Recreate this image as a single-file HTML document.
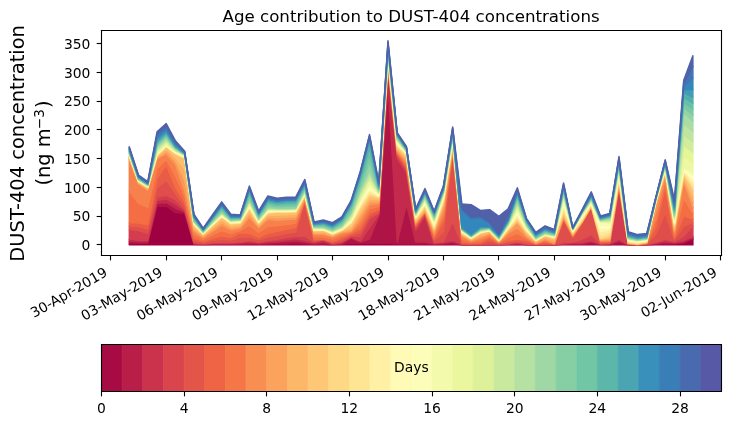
<!DOCTYPE html>
<html><head><meta charset="utf-8"><style>
html,body{margin:0;padding:0;background:#fff;overflow:hidden;width:730px;height:425px}
svg{display:block;will-change:transform}
</style></head><body>
<svg width="730" height="425" viewBox="0 0 525.6 306" version="1.1">
 
 <defs>
  <style type="text/css">*{stroke-linejoin: round; stroke-linecap: butt}</style>
 </defs>
 <g id="figure_1">
  <g id="patch_1">
   <path d="M 0 306 
L 525.6 306 
L 525.6 0 
L 0 0 
z
" style="fill: #ffffff"/>
  </g>
  <g id="axes_1">
   <g id="patch_2">
    <path d="M 72.79 183.67 
L 519.19 183.67 
L 519.19 21.88 
L 72.79 21.88 
z
" style="fill: #ffffff"/>
   </g>
   <g id="FillBetweenPolyCollection_1">
    
    <g clip-path="url(#p6c97a003e6)">
     <path d="M 93.08 -130.92 
L 93.08 -129.68 
L 99.73 -129.68 
L 106.38 -129.68 
L 113.04 -129.68 
L 119.69 -129.68 
L 126.34 -129.68 
L 132.99 -129.68 
L 139.65 -129.68 
L 146.30 -129.68 
L 152.95 -129.68 
L 159.61 -129.68 
L 166.26 -129.68 
L 172.91 -129.68 
L 179.56 -129.68 
L 186.22 -129.68 
L 192.87 -129.68 
L 199.52 -129.68 
L 206.17 -129.68 
L 212.83 -129.68 
L 219.48 -129.68 
L 226.13 -129.68 
L 232.79 -129.68 
L 239.44 -129.68 
L 246.09 -129.68 
L 252.74 -129.68 
L 259.40 -129.68 
L 266.05 -129.68 
L 272.70 -129.68 
L 279.36 -129.68 
L 286.01 -129.68 
L 292.66 -129.68 
L 299.31 -129.68 
L 305.97 -129.68 
L 312.62 -129.68 
L 319.27 -129.68 
L 325.92 -129.68 
L 332.58 -129.68 
L 339.23 -129.68 
L 345.88 -129.68 
L 352.54 -129.68 
L 359.19 -129.68 
L 365.84 -129.68 
L 372.49 -129.68 
L 379.15 -129.68 
L 385.80 -129.68 
L 392.45 -129.68 
L 399.10 -129.68 
L 405.76 -129.68 
L 412.41 -129.68 
L 419.06 -129.68 
L 425.72 -129.68 
L 432.37 -129.68 
L 439.02 -129.68 
L 445.67 -129.68 
L 452.33 -129.68 
L 458.98 -129.68 
L 465.63 -129.68 
L 472.29 -129.68 
L 478.94 -129.68 
L 485.59 -129.68 
L 492.24 -129.68 
L 498.90 -129.68 
L 498.90 -133.82 
L 498.90 -133.82 
L 492.24 -130.92 
L 485.59 -130.51 
L 478.94 -130.51 
L 472.29 -130.09 
L 465.63 -129.76 
L 458.98 -129.72 
L 452.33 -129.76 
L 445.67 -130.51 
L 439.02 -129.88 
L 432.37 -129.88 
L 425.72 -130.51 
L 419.06 -130.09 
L 412.41 -130.09 
L 405.76 -130.09 
L 399.10 -129.72 
L 392.45 -129.76 
L 385.80 -129.72 
L 379.15 -129.80 
L 372.49 -130.09 
L 365.84 -129.88 
L 359.19 -129.76 
L 352.54 -129.88 
L 345.88 -129.80 
L 339.23 -129.76 
L 332.58 -129.80 
L 325.92 -130.51 
L 319.27 -130.09 
L 312.62 -130.09 
L 305.97 -130.51 
L 299.31 -130.51 
L 292.66 -130.51 
L 286.01 -130.51 
L 279.36 -130.92 
L 272.70 -130.92 
L 266.05 -130.92 
L 259.40 -130.92 
L 252.74 -130.92 
L 246.09 -130.09 
L 239.44 -129.88 
L 232.79 -130.09 
L 226.13 -130.09 
L 219.48 -130.51 
L 212.83 -130.92 
L 206.17 -130.51 
L 199.52 -130.51 
L 192.87 -130.30 
L 186.22 -130.09 
L 179.56 -130.30 
L 172.91 -130.09 
L 166.26 -130.09 
L 159.61 -130.30 
L 152.95 -130.11 
L 146.30 -129.92 
L 139.65 -130.12 
L 132.99 -152.46 
L 126.34 -152.88 
L 119.69 -157.68 
L 113.04 -157.43 
L 106.38 -130.92 
L 99.73 -130.92 
L 93.08 -130.92 
z
" transform="translate(0 306)" style="stroke: #9e0142; fill: #9e0142; stroke: #9e0142"/>
    </g>
   </g>
   <g id="FillBetweenPolyCollection_2">
    
    <g clip-path="url(#p6c97a003e6)">
     <path d="M 93.08 -132.37 
L 93.08 -130.92 
L 99.73 -130.92 
L 106.38 -130.92 
L 113.04 -157.43 
L 119.69 -157.68 
L 126.34 -152.88 
L 132.99 -152.46 
L 139.65 -130.12 
L 146.30 -129.92 
L 152.95 -130.11 
L 159.61 -130.30 
L 166.26 -130.09 
L 172.91 -130.09 
L 179.56 -130.30 
L 186.22 -130.09 
L 192.87 -130.30 
L 199.52 -130.51 
L 206.17 -130.51 
L 212.83 -130.92 
L 219.48 -130.51 
L 226.13 -130.09 
L 232.79 -130.09 
L 239.44 -129.88 
L 246.09 -130.09 
L 252.74 -130.92 
L 259.40 -130.92 
L 266.05 -130.92 
L 272.70 -130.92 
L 279.36 -130.92 
L 286.01 -130.51 
L 292.66 -130.51 
L 299.31 -130.51 
L 305.97 -130.51 
L 312.62 -130.09 
L 319.27 -130.09 
L 325.92 -130.51 
L 332.58 -129.80 
L 339.23 -129.76 
L 345.88 -129.80 
L 352.54 -129.88 
L 359.19 -129.76 
L 365.84 -129.88 
L 372.49 -130.09 
L 379.15 -129.80 
L 385.80 -129.72 
L 392.45 -129.76 
L 399.10 -129.72 
L 405.76 -130.09 
L 412.41 -130.09 
L 419.06 -130.09 
L 425.72 -130.51 
L 432.37 -129.88 
L 439.02 -129.88 
L 445.67 -130.51 
L 452.33 -129.76 
L 458.98 -129.72 
L 465.63 -129.76 
L 472.29 -130.09 
L 478.94 -130.51 
L 485.59 -130.51 
L 492.24 -130.92 
L 498.90 -133.82 
L 498.90 -134.86 
L 498.90 -134.86 
L 492.24 -131.96 
L 485.59 -131.06 
L 478.94 -131.61 
L 472.29 -130.64 
L 465.63 -129.84 
L 458.98 -129.75 
L 452.33 -129.84 
L 445.67 -132.16 
L 439.02 -130.23 
L 432.37 -130.09 
L 425.72 -131.75 
L 419.06 -130.71 
L 412.41 -130.64 
L 405.76 -130.30 
L 399.10 -129.77 
L 392.45 -129.87 
L 385.80 -129.77 
L 379.15 -129.97 
L 372.49 -130.64 
L 365.84 -130.09 
L 359.19 -129.84 
L 352.54 -130.09 
L 345.88 -129.90 
L 339.23 -129.84 
L 332.58 -129.90 
L 325.92 -131.75 
L 319.27 -130.78 
L 312.62 -130.51 
L 305.97 -131.75 
L 299.31 -131.75 
L 292.66 -158.68 
L 286.01 -131.75 
L 279.36 -245.68 
L 272.70 -150.39 
L 266.05 -133.82 
L 259.40 -131.69 
L 252.74 -134.65 
L 246.09 -130.71 
L 239.44 -130.09 
L 232.79 -131.62 
L 226.13 -130.69 
L 219.48 -131.75 
L 212.83 -132.58 
L 206.17 -132.02 
L 199.52 -131.54 
L 192.87 -131.17 
L 186.22 -130.64 
L 179.56 -131.20 
L 172.91 -130.71 
L 166.26 -130.51 
L 159.61 -130.64 
L 152.95 -130.47 
L 146.30 -130.12 
L 139.65 -130.49 
L 132.99 -153.43 
L 126.34 -156.05 
L 119.69 -160.22 
L 113.04 -159.64 
L 106.38 -131.96 
L 99.73 -131.96 
L 93.08 -132.37 
z
" transform="translate(0 306)" style="stroke: #af1446; fill: #af1446; stroke: #af1446"/>
    </g>
   </g>
   <g id="FillBetweenPolyCollection_3">
    
    <g clip-path="url(#p6c97a003e6)">
     <path d="M 93.08 -133.82 
L 93.08 -132.37 
L 99.73 -131.96 
L 106.38 -131.96 
L 113.04 -159.64 
L 119.69 -160.22 
L 126.34 -156.05 
L 132.99 -153.43 
L 139.65 -130.49 
L 146.30 -130.12 
L 152.95 -130.47 
L 159.61 -130.64 
L 166.26 -130.51 
L 172.91 -130.71 
L 179.56 -131.20 
L 186.22 -130.64 
L 192.87 -131.17 
L 199.52 -131.54 
L 206.17 -132.02 
L 212.83 -132.58 
L 219.48 -131.75 
L 226.13 -130.69 
L 232.79 -131.62 
L 239.44 -130.09 
L 246.09 -130.71 
L 252.74 -134.65 
L 259.40 -131.69 
L 266.05 -133.82 
L 272.70 -150.39 
L 279.36 -245.68 
L 286.01 -131.75 
L 292.66 -158.68 
L 299.31 -131.75 
L 305.97 -131.75 
L 312.62 -130.51 
L 319.27 -130.78 
L 325.92 -131.75 
L 332.58 -129.90 
L 339.23 -129.84 
L 345.88 -129.90 
L 352.54 -130.09 
L 359.19 -129.84 
L 365.84 -130.09 
L 372.49 -130.64 
L 379.15 -129.97 
L 385.80 -129.77 
L 392.45 -129.87 
L 399.10 -129.77 
L 405.76 -130.30 
L 412.41 -130.64 
L 419.06 -130.71 
L 425.72 -131.75 
L 432.37 -130.09 
L 439.02 -130.23 
L 445.67 -132.16 
L 452.33 -129.84 
L 458.98 -129.75 
L 465.63 -129.84 
L 472.29 -130.64 
L 478.94 -131.61 
L 485.59 -131.06 
L 492.24 -131.96 
L 498.90 -134.86 
L 498.90 -135.89 
L 498.90 -135.89 
L 492.24 -132.99 
L 485.59 -131.61 
L 478.94 -132.72 
L 472.29 -131.20 
L 465.63 -129.93 
L 458.98 -129.77 
L 452.33 -129.93 
L 445.67 -133.82 
L 439.02 -130.57 
L 432.37 -130.30 
L 425.72 -132.99 
L 419.06 -131.33 
L 412.41 -131.20 
L 405.76 -130.51 
L 399.10 -129.83 
L 392.45 -129.98 
L 385.80 -129.83 
L 379.15 -130.13 
L 372.49 -131.20 
L 365.84 -130.30 
L 359.19 -129.93 
L 352.54 -130.30 
L 345.88 -129.99 
L 339.23 -129.93 
L 332.58 -129.99 
L 325.92 -132.99 
L 319.27 -131.47 
L 312.62 -130.92 
L 305.97 -150.39 
L 299.31 -140.03 
L 292.66 -181.46 
L 286.01 -191.82 
L 279.36 -253.97 
L 272.70 -151.43 
L 266.05 -142.11 
L 259.40 -132.45 
L 252.74 -135.27 
L 246.09 -131.33 
L 239.44 -130.30 
L 232.79 -133.16 
L 226.13 -131.29 
L 219.48 -132.99 
L 212.83 -134.23 
L 206.17 -133.54 
L 199.52 -132.58 
L 192.87 -132.04 
L 186.22 -131.20 
L 179.56 -132.09 
L 172.91 -131.33 
L 166.26 -130.92 
L 159.61 -130.99 
L 152.95 -130.83 
L 146.30 -130.32 
L 139.65 -130.86 
L 132.99 -154.40 
L 126.34 -159.23 
L 119.69 -162.77 
L 113.04 -161.85 
L 106.38 -132.99 
L 99.73 -132.99 
L 93.08 -133.82 
z
" transform="translate(0 306)" style="stroke: #c32a4b; fill: #c32a4b; stroke: #c32a4b"/>
    </g>
   </g>
   <g id="FillBetweenPolyCollection_4">
    
    <g clip-path="url(#p6c97a003e6)">
     <path d="M 93.08 -140.86 
L 93.08 -133.82 
L 99.73 -132.99 
L 106.38 -132.99 
L 113.04 -161.85 
L 119.69 -162.77 
L 126.34 -159.23 
L 132.99 -154.40 
L 139.65 -130.86 
L 146.30 -130.32 
L 152.95 -130.83 
L 159.61 -130.99 
L 166.26 -130.92 
L 172.91 -131.33 
L 179.56 -132.09 
L 186.22 -131.20 
L 192.87 -132.04 
L 199.52 -132.58 
L 206.17 -133.54 
L 212.83 -134.23 
L 219.48 -132.99 
L 226.13 -131.29 
L 232.79 -133.16 
L 239.44 -130.30 
L 246.09 -131.33 
L 252.74 -135.27 
L 259.40 -132.45 
L 266.05 -142.11 
L 272.70 -151.43 
L 279.36 -253.97 
L 286.01 -191.82 
L 292.66 -181.46 
L 299.31 -140.03 
L 305.97 -150.39 
L 312.62 -130.92 
L 319.27 -131.47 
L 325.92 -132.99 
L 332.58 -129.99 
L 339.23 -129.93 
L 345.88 -129.99 
L 352.54 -130.30 
L 359.19 -129.93 
L 365.84 -130.30 
L 372.49 -131.20 
L 379.15 -130.13 
L 385.80 -129.83 
L 392.45 -129.98 
L 399.10 -129.83 
L 405.76 -130.51 
L 412.41 -131.20 
L 419.06 -131.33 
L 425.72 -132.99 
L 432.37 -130.30 
L 439.02 -130.57 
L 445.67 -133.82 
L 452.33 -129.93 
L 458.98 -129.77 
L 465.63 -129.93 
L 472.29 -131.20 
L 478.94 -132.72 
L 485.59 -131.61 
L 492.24 -132.99 
L 498.90 -135.89 
L 498.90 -143.35 
L 498.90 -143.35 
L 492.24 -135.89 
L 485.59 -132.16 
L 478.94 -133.82 
L 472.29 -131.75 
L 465.63 -130.01 
L 458.98 -129.80 
L 452.33 -130.01 
L 445.67 -170.28 
L 439.02 -130.92 
L 432.37 -130.51 
L 425.72 -137.13 
L 419.06 -133.82 
L 412.41 -131.75 
L 405.76 -131.75 
L 399.10 -129.88 
L 392.45 -130.09 
L 385.80 -129.88 
L 379.15 -130.30 
L 372.49 -131.75 
L 365.84 -130.51 
L 359.19 -130.01 
L 352.54 -130.51 
L 345.88 -130.09 
L 339.23 -130.01 
L 332.58 -130.09 
L 325.92 -146.25 
L 319.27 -132.16 
L 312.62 -131.33 
L 305.97 -152.05 
L 299.31 -142.11 
L 292.66 -183.54 
L 286.01 -193.89 
L 279.36 -258.11 
L 272.70 -152.46 
L 266.05 -148.32 
L 259.40 -135.89 
L 252.74 -135.89 
L 246.09 -132.16 
L 239.44 -130.84 
L 232.79 -133.38 
L 226.13 -132.07 
L 219.48 -135.89 
L 212.83 -135.89 
L 206.17 -135.06 
L 199.52 -133.61 
L 192.87 -132.91 
L 186.22 -131.75 
L 179.56 -132.99 
L 172.91 -131.96 
L 166.26 -131.33 
L 159.61 -131.33 
L 152.95 -131.18 
L 146.30 -130.52 
L 139.65 -131.23 
L 132.99 -155.36 
L 126.34 -162.41 
L 119.69 -165.31 
L 113.04 -164.06 
L 106.38 -137.96 
L 99.73 -140.03 
L 93.08 -140.86 
z
" transform="translate(0 306)" style="stroke: #d43d4f; fill: #d43d4f; stroke: #d43d4f"/>
    </g>
   </g>
   <g id="FillBetweenPolyCollection_5">
    
    <g clip-path="url(#p6c97a003e6)">
     <path d="M 93.08 -143.35 
L 93.08 -140.86 
L 99.73 -140.03 
L 106.38 -137.96 
L 113.04 -164.06 
L 119.69 -165.31 
L 126.34 -162.41 
L 132.99 -155.36 
L 139.65 -131.23 
L 146.30 -130.52 
L 152.95 -131.18 
L 159.61 -131.33 
L 166.26 -131.33 
L 172.91 -131.96 
L 179.56 -132.99 
L 186.22 -131.75 
L 192.87 -132.91 
L 199.52 -133.61 
L 206.17 -135.06 
L 212.83 -135.89 
L 219.48 -135.89 
L 226.13 -132.07 
L 232.79 -133.38 
L 239.44 -130.84 
L 246.09 -132.16 
L 252.74 -135.89 
L 259.40 -135.89 
L 266.05 -148.32 
L 272.70 -152.46 
L 279.36 -258.11 
L 286.01 -193.89 
L 292.66 -183.54 
L 299.31 -142.11 
L 305.97 -152.05 
L 312.62 -131.33 
L 319.27 -132.16 
L 325.92 -146.25 
L 332.58 -130.09 
L 339.23 -130.01 
L 345.88 -130.09 
L 352.54 -130.51 
L 359.19 -130.01 
L 365.84 -130.51 
L 372.49 -131.75 
L 379.15 -130.30 
L 385.80 -129.88 
L 392.45 -130.09 
L 399.10 -129.88 
L 405.76 -131.75 
L 412.41 -131.75 
L 419.06 -133.82 
L 425.72 -137.13 
L 432.37 -130.51 
L 439.02 -130.92 
L 445.67 -170.28 
L 452.33 -130.01 
L 458.98 -129.80 
L 465.63 -130.01 
L 472.29 -131.75 
L 478.94 -133.82 
L 485.59 -132.16 
L 492.24 -135.89 
L 498.90 -143.35 
L 498.90 -145.83 
L 498.90 -145.83 
L 492.24 -143.14 
L 485.59 -133.41 
L 478.94 -152.46 
L 472.29 -137.30 
L 465.63 -130.31 
L 458.98 -129.83 
L 452.33 -130.21 
L 445.67 -171.11 
L 439.02 -131.44 
L 432.37 -131.09 
L 425.72 -157.02 
L 419.06 -145.30 
L 412.41 -135.06 
L 405.76 -147.49 
L 399.10 -130.11 
L 392.45 -130.97 
L 385.80 -130.11 
L 379.15 -131.59 
L 372.49 -132.78 
L 365.84 -131.75 
L 359.19 -130.46 
L 352.54 -132.49 
L 345.88 -130.71 
L 339.23 -130.46 
L 332.58 -130.92 
L 325.92 -195.96 
L 319.27 -139.21 
L 312.62 -132.99 
L 305.97 -152.55 
L 299.31 -142.93 
L 292.66 -184.78 
L 286.01 -194.72 
L 279.36 -258.77 
L 272.70 -153.91 
L 266.05 -150.39 
L 259.40 -138.58 
L 252.74 -136.80 
L 246.09 -133.41 
L 239.44 -131.50 
L 232.79 -133.60 
L 226.13 -132.84 
L 219.48 -160.75 
L 212.83 -139.00 
L 206.17 -137.96 
L 199.52 -136.51 
L 192.87 -135.44 
L 186.22 -133.41 
L 179.56 -135.48 
L 172.91 -135.17 
L 166.26 -133.20 
L 159.61 -133.78 
L 152.95 -132.80 
L 146.30 -131.42 
L 139.65 -132.88 
L 132.99 -158.06 
L 126.34 -166.76 
L 119.69 -176.29 
L 113.04 -170.69 
L 106.38 -141.07 
L 99.73 -142.73 
L 93.08 -143.35 
z
" transform="translate(0 306)" style="stroke: #df4e4b; fill: #df4e4b; stroke: #df4e4b"/>
    </g>
   </g>
   <g id="FillBetweenPolyCollection_6">
    
    <g clip-path="url(#p6c97a003e6)">
     <path d="M 93.08 -145.83 
L 93.08 -143.35 
L 99.73 -142.73 
L 106.38 -141.07 
L 113.04 -170.69 
L 119.69 -176.29 
L 126.34 -166.76 
L 132.99 -158.06 
L 139.65 -132.88 
L 146.30 -131.42 
L 152.95 -132.80 
L 159.61 -133.78 
L 166.26 -133.20 
L 172.91 -135.17 
L 179.56 -135.48 
L 186.22 -133.41 
L 192.87 -135.44 
L 199.52 -136.51 
L 206.17 -137.96 
L 212.83 -139.00 
L 219.48 -160.75 
L 226.13 -132.84 
L 232.79 -133.60 
L 239.44 -131.50 
L 246.09 -133.41 
L 252.74 -136.80 
L 259.40 -138.58 
L 266.05 -150.39 
L 272.70 -153.91 
L 279.36 -258.77 
L 286.01 -194.72 
L 292.66 -184.78 
L 299.31 -142.93 
L 305.97 -152.55 
L 312.62 -132.99 
L 319.27 -139.21 
L 325.92 -195.96 
L 332.58 -130.92 
L 339.23 -130.46 
L 345.88 -130.71 
L 352.54 -132.49 
L 359.19 -130.46 
L 365.84 -131.75 
L 372.49 -132.78 
L 379.15 -131.59 
L 385.80 -130.11 
L 392.45 -130.97 
L 399.10 -130.11 
L 405.76 -147.49 
L 412.41 -135.06 
L 419.06 -145.30 
L 425.72 -157.02 
L 432.37 -131.09 
L 439.02 -131.44 
L 445.67 -171.11 
L 452.33 -130.21 
L 458.98 -129.83 
L 465.63 -130.31 
L 472.29 -137.30 
L 478.94 -152.46 
L 485.59 -133.41 
L 492.24 -143.14 
L 498.90 -145.83 
L 498.90 -148.32 
L 498.90 -148.32 
L 492.24 -150.39 
L 485.59 -134.65 
L 478.94 -171.11 
L 472.29 -142.85 
L 465.63 -130.61 
L 458.98 -129.86 
L 452.33 -130.40 
L 445.67 -171.94 
L 439.02 -131.96 
L 432.37 -131.67 
L 425.72 -157.12 
L 419.06 -145.53 
L 412.41 -135.55 
L 405.76 -148.22 
L 399.10 -130.34 
L 392.45 -131.85 
L 385.80 -130.34 
L 379.15 -132.89 
L 372.49 -133.82 
L 365.84 -132.99 
L 359.19 -130.92 
L 352.54 -134.48 
L 345.88 -131.33 
L 339.23 -130.92 
L 332.58 -131.75 
L 325.92 -197.00 
L 319.27 -146.25 
L 312.62 -134.65 
L 305.97 -153.04 
L 299.31 -143.76 
L 292.66 -186.02 
L 286.01 -195.55 
L 279.36 -259.44 
L 272.70 -155.36 
L 266.05 -152.46 
L 259.40 -141.28 
L 252.74 -137.71 
L 246.09 -134.65 
L 239.44 -132.16 
L 232.79 -133.82 
L 226.13 -133.61 
L 219.48 -161.44 
L 212.83 -142.11 
L 206.17 -140.86 
L 199.52 -139.41 
L 192.87 -137.96 
L 186.22 -135.06 
L 179.56 -137.96 
L 172.91 -138.38 
L 166.26 -135.06 
L 159.61 -136.22 
L 152.95 -134.42 
L 146.30 -132.32 
L 139.65 -134.54 
L 132.99 -160.75 
L 126.34 -171.11 
L 119.69 -187.26 
L 113.04 -177.32 
L 106.38 -144.18 
L 99.73 -145.42 
L 93.08 -145.83 
z
" transform="translate(0 306)" style="stroke: #e95c47; fill: #e95c47; stroke: #e95c47"/>
    </g>
   </g>
   <g id="FillBetweenPolyCollection_7">
    
    <g clip-path="url(#p6c97a003e6)">
     <path d="M 93.08 -168.41 
L 93.08 -145.83 
L 99.73 -145.42 
L 106.38 -144.18 
L 113.04 -177.32 
L 119.69 -187.26 
L 126.34 -171.11 
L 132.99 -160.75 
L 139.65 -134.54 
L 146.30 -132.32 
L 152.95 -134.42 
L 159.61 -136.22 
L 166.26 -135.06 
L 172.91 -138.38 
L 179.56 -137.96 
L 186.22 -135.06 
L 192.87 -137.96 
L 199.52 -139.41 
L 206.17 -140.86 
L 212.83 -142.11 
L 219.48 -161.44 
L 226.13 -133.61 
L 232.79 -133.82 
L 239.44 -132.16 
L 246.09 -134.65 
L 252.74 -137.71 
L 259.40 -141.28 
L 266.05 -152.46 
L 272.70 -155.36 
L 279.36 -259.44 
L 286.01 -195.55 
L 292.66 -186.02 
L 299.31 -143.76 
L 305.97 -153.04 
L 312.62 -134.65 
L 319.27 -146.25 
L 325.92 -197.00 
L 332.58 -131.75 
L 339.23 -130.92 
L 345.88 -131.33 
L 352.54 -134.48 
L 359.19 -130.92 
L 365.84 -132.99 
L 372.49 -133.82 
L 379.15 -132.89 
L 385.80 -130.34 
L 392.45 -131.85 
L 399.10 -130.34 
L 405.76 -148.22 
L 412.41 -135.55 
L 419.06 -145.53 
L 425.72 -157.12 
L 432.37 -131.67 
L 439.02 -131.96 
L 445.67 -171.94 
L 452.33 -130.40 
L 458.98 -129.86 
L 465.63 -130.61 
L 472.29 -142.85 
L 478.94 -171.11 
L 485.59 -134.65 
L 492.24 -150.39 
L 498.90 -148.32 
L 498.90 -152.46 
L 498.90 -152.46 
L 492.24 -162.82 
L 485.59 -136.72 
L 478.94 -175.25 
L 472.29 -148.40 
L 465.63 -130.91 
L 458.98 -129.89 
L 452.33 -130.60 
L 445.67 -172.76 
L 439.02 -132.47 
L 432.37 -132.25 
L 425.72 -157.23 
L 419.06 -145.77 
L 412.41 -136.04 
L 405.76 -148.94 
L 399.10 -130.57 
L 392.45 -132.73 
L 385.80 -130.57 
L 379.15 -134.18 
L 372.49 -137.91 
L 365.84 -135.48 
L 359.19 -131.33 
L 352.54 -135.81 
L 345.88 -132.99 
L 339.23 -131.75 
L 332.58 -133.82 
L 325.92 -198.04 
L 319.27 -150.12 
L 312.62 -136.31 
L 305.97 -153.54 
L 299.31 -144.59 
L 292.66 -187.68 
L 286.01 -196.38 
L 279.36 -260.10 
L 272.70 -157.43 
L 266.05 -155.57 
L 259.40 -144.32 
L 252.74 -138.63 
L 246.09 -136.47 
L 239.44 -133.82 
L 232.79 -135.58 
L 226.13 -135.48 
L 219.48 -162.13 
L 212.83 -145.21 
L 206.17 -144.38 
L 199.52 -143.37 
L 192.87 -143.02 
L 186.22 -138.58 
L 179.56 -143.76 
L 172.91 -139.97 
L 166.26 -137.76 
L 159.61 -139.95 
L 152.95 -136.89 
L 146.30 -133.70 
L 139.65 -137.09 
L 132.99 -164.69 
L 126.34 -179.39 
L 119.69 -191.20 
L 113.04 -184.57 
L 106.38 -156.61 
L 99.73 -159.51 
L 93.08 -168.41 
z
" transform="translate(0 306)" style="stroke: #f46d43; fill: #f46d43; stroke: #f46d43"/>
    </g>
   </g>
   <g id="FillBetweenPolyCollection_8">
    
    <g clip-path="url(#p6c97a003e6)">
     <path d="M 93.08 -190.99 
L 93.08 -168.41 
L 99.73 -159.51 
L 106.38 -156.61 
L 113.04 -184.57 
L 119.69 -191.20 
L 126.34 -179.39 
L 132.99 -164.69 
L 139.65 -137.09 
L 146.30 -133.70 
L 152.95 -136.89 
L 159.61 -139.95 
L 166.26 -137.76 
L 172.91 -139.97 
L 179.56 -143.76 
L 186.22 -138.58 
L 192.87 -143.02 
L 199.52 -143.37 
L 206.17 -144.38 
L 212.83 -145.21 
L 219.48 -162.13 
L 226.13 -135.48 
L 232.79 -135.58 
L 239.44 -133.82 
L 246.09 -136.47 
L 252.74 -138.63 
L 259.40 -144.32 
L 266.05 -155.57 
L 272.70 -157.43 
L 279.36 -260.10 
L 286.01 -196.38 
L 292.66 -187.68 
L 299.31 -144.59 
L 305.97 -153.54 
L 312.62 -136.31 
L 319.27 -150.12 
L 325.92 -198.04 
L 332.58 -133.82 
L 339.23 -131.75 
L 345.88 -132.99 
L 352.54 -135.81 
L 359.19 -131.33 
L 365.84 -135.48 
L 372.49 -137.91 
L 379.15 -134.18 
L 385.80 -130.57 
L 392.45 -132.73 
L 399.10 -130.57 
L 405.76 -148.94 
L 412.41 -136.04 
L 419.06 -145.77 
L 425.72 -157.23 
L 432.37 -132.25 
L 439.02 -132.47 
L 445.67 -172.76 
L 452.33 -130.60 
L 458.98 -129.89 
L 465.63 -130.91 
L 472.29 -148.40 
L 478.94 -175.25 
L 485.59 -136.72 
L 492.24 -162.82 
L 498.90 -152.46 
L 498.90 -156.61 
L 498.90 -156.61 
L 492.24 -175.25 
L 485.59 -138.79 
L 478.94 -179.39 
L 472.29 -153.95 
L 465.63 -131.21 
L 458.98 -129.93 
L 452.33 -130.80 
L 445.67 -173.59 
L 439.02 -132.99 
L 432.37 -132.83 
L 425.72 -157.33 
L 419.06 -146.01 
L 412.41 -136.52 
L 405.76 -149.67 
L 399.10 -130.80 
L 392.45 -133.61 
L 385.80 -130.80 
L 379.15 -135.48 
L 372.49 -142.00 
L 365.84 -137.96 
L 359.19 -131.75 
L 352.54 -137.13 
L 345.88 -134.65 
L 339.23 -132.58 
L 332.58 -135.89 
L 325.92 -199.07 
L 319.27 -153.98 
L 312.62 -137.96 
L 305.97 -154.04 
L 299.31 -145.42 
L 292.66 -189.34 
L 286.01 -197.21 
L 279.36 -260.76 
L 272.70 -159.51 
L 266.05 -158.68 
L 259.40 -147.35 
L 252.74 -139.54 
L 246.09 -138.29 
L 239.44 -135.48 
L 232.79 -137.34 
L 226.13 -137.34 
L 219.48 -162.82 
L 212.83 -148.32 
L 206.17 -147.91 
L 199.52 -147.33 
L 192.87 -148.07 
L 186.22 -142.11 
L 179.56 -149.56 
L 172.91 -141.57 
L 166.26 -140.45 
L 159.61 -143.68 
L 152.95 -139.37 
L 146.30 -135.08 
L 139.65 -139.63 
L 132.99 -168.62 
L 126.34 -187.68 
L 119.69 -195.14 
L 113.04 -191.82 
L 106.38 -169.04 
L 99.73 -173.59 
L 93.08 -190.99 
z
" transform="translate(0 306)" style="stroke: #f7814c; fill: #f7814c; stroke: #f7814c"/>
    </g>
   </g>
   <g id="FillBetweenPolyCollection_9">
    
    <g clip-path="url(#p6c97a003e6)">
     <path d="M 93.08 -191.82 
L 93.08 -190.99 
L 99.73 -173.59 
L 106.38 -169.04 
L 113.04 -191.82 
L 119.69 -195.14 
L 126.34 -187.68 
L 132.99 -168.62 
L 139.65 -139.63 
L 146.30 -135.08 
L 152.95 -139.37 
L 159.61 -143.68 
L 166.26 -140.45 
L 172.91 -141.57 
L 179.56 -149.56 
L 186.22 -142.11 
L 192.87 -148.07 
L 199.52 -147.33 
L 206.17 -147.91 
L 212.83 -148.32 
L 219.48 -162.82 
L 226.13 -137.34 
L 232.79 -137.34 
L 239.44 -135.48 
L 246.09 -138.29 
L 252.74 -139.54 
L 259.40 -147.35 
L 266.05 -158.68 
L 272.70 -159.51 
L 279.36 -260.76 
L 286.01 -197.21 
L 292.66 -189.34 
L 299.31 -145.42 
L 305.97 -154.04 
L 312.62 -137.96 
L 319.27 -153.98 
L 325.92 -199.07 
L 332.58 -135.89 
L 339.23 -132.58 
L 345.88 -134.65 
L 352.54 -137.13 
L 359.19 -131.75 
L 365.84 -137.96 
L 372.49 -142.00 
L 379.15 -135.48 
L 385.80 -130.80 
L 392.45 -133.61 
L 399.10 -130.80 
L 405.76 -149.67 
L 412.41 -136.52 
L 419.06 -146.01 
L 425.72 -157.33 
L 432.37 -132.83 
L 439.02 -132.99 
L 445.67 -173.59 
L 452.33 -130.80 
L 458.98 -129.93 
L 465.63 -131.21 
L 472.29 -153.95 
L 478.94 -179.39 
L 485.59 -138.79 
L 492.24 -175.25 
L 498.90 -156.61 
L 498.90 -160.75 
L 498.90 -160.75 
L 492.24 -177.05 
L 485.59 -140.17 
L 478.94 -180.50 
L 472.29 -159.51 
L 465.63 -131.39 
L 458.98 -130.12 
L 452.33 -130.97 
L 445.67 -174.42 
L 439.02 -133.82 
L 432.37 -133.41 
L 425.72 -157.43 
L 419.06 -146.25 
L 412.41 -137.01 
L 405.76 -150.39 
L 399.10 -132.05 
L 392.45 -134.55 
L 385.80 -131.43 
L 379.15 -136.64 
L 372.49 -146.08 
L 365.84 -138.93 
L 359.19 -132.04 
L 352.54 -137.96 
L 345.88 -135.82 
L 339.23 -133.09 
L 332.58 -136.68 
L 325.92 -200.11 
L 319.27 -157.85 
L 312.62 -139.62 
L 305.97 -154.53 
L 299.31 -146.25 
L 292.66 -190.99 
L 286.01 -198.04 
L 279.36 -261.42 
L 272.70 -160.89 
L 266.05 -160.75 
L 259.40 -150.39 
L 252.74 -140.45 
L 246.09 -138.92 
L 239.44 -136.10 
L 232.79 -138.28 
L 226.13 -138.13 
L 219.48 -163.65 
L 212.83 -149.98 
L 206.17 -149.65 
L 199.52 -149.26 
L 192.87 -149.51 
L 186.22 -143.17 
L 179.56 -151.50 
L 172.91 -142.81 
L 166.26 -141.88 
L 159.61 -145.64 
L 152.95 -140.74 
L 146.30 -135.84 
L 139.65 -141.03 
L 132.99 -176.35 
L 126.34 -190.16 
L 119.69 -196.93 
L 113.04 -192.51 
L 106.38 -169.73 
L 99.73 -174.14 
L 93.08 -191.82 
z
" transform="translate(0 306)" style="stroke: #fa9857; fill: #fa9857; stroke: #fa9857"/>
    </g>
   </g>
   <g id="FillBetweenPolyCollection_10">
    
    <g clip-path="url(#p6c97a003e6)">
     <path d="M 93.08 -192.65 
L 93.08 -191.82 
L 99.73 -174.14 
L 106.38 -169.73 
L 113.04 -192.51 
L 119.69 -196.93 
L 126.34 -190.16 
L 132.99 -176.35 
L 139.65 -141.03 
L 146.30 -135.84 
L 152.95 -140.74 
L 159.61 -145.64 
L 166.26 -141.88 
L 172.91 -142.81 
L 179.56 -151.50 
L 186.22 -143.17 
L 192.87 -149.51 
L 199.52 -149.26 
L 206.17 -149.65 
L 212.83 -149.98 
L 219.48 -163.65 
L 226.13 -138.13 
L 232.79 -138.28 
L 239.44 -136.10 
L 246.09 -138.92 
L 252.74 -140.45 
L 259.40 -150.39 
L 266.05 -160.75 
L 272.70 -160.89 
L 279.36 -261.42 
L 286.01 -198.04 
L 292.66 -190.99 
L 299.31 -146.25 
L 305.97 -154.53 
L 312.62 -139.62 
L 319.27 -157.85 
L 325.92 -200.11 
L 332.58 -136.68 
L 339.23 -133.09 
L 345.88 -135.82 
L 352.54 -137.96 
L 359.19 -132.04 
L 365.84 -138.93 
L 372.49 -146.08 
L 379.15 -136.64 
L 385.80 -131.43 
L 392.45 -134.55 
L 399.10 -132.05 
L 405.76 -150.39 
L 412.41 -137.01 
L 419.06 -146.25 
L 425.72 -157.43 
L 432.37 -133.41 
L 439.02 -133.82 
L 445.67 -174.42 
L 452.33 -130.97 
L 458.98 -130.12 
L 465.63 -131.39 
L 472.29 -159.51 
L 478.94 -180.50 
L 485.59 -140.17 
L 492.24 -177.05 
L 498.90 -160.75 
L 498.90 -164.89 
L 498.90 -164.89 
L 492.24 -178.84 
L 485.59 -141.55 
L 478.94 -181.60 
L 472.29 -159.92 
L 465.63 -131.57 
L 458.98 -130.31 
L 452.33 -131.15 
L 445.67 -175.39 
L 439.02 -134.65 
L 432.37 -133.82 
L 425.72 -157.85 
L 419.06 -146.72 
L 412.41 -137.60 
L 405.76 -151.77 
L 399.10 -133.31 
L 392.45 -135.49 
L 385.80 -132.07 
L 379.15 -137.80 
L 372.49 -146.93 
L 365.84 -139.90 
L 359.19 -132.33 
L 352.54 -138.79 
L 345.88 -137.00 
L 339.23 -133.60 
L 332.58 -137.47 
L 325.92 -201.21 
L 319.27 -159.09 
L 312.62 -140.45 
L 305.97 -155.64 
L 299.31 -147.08 
L 292.66 -192.10 
L 286.01 -199.00 
L 279.36 -262.25 
L 272.70 -162.27 
L 266.05 -162.82 
L 259.40 -152.46 
L 252.74 -142.06 
L 246.09 -139.54 
L 239.44 -136.72 
L 232.79 -139.22 
L 226.13 -138.92 
L 219.48 -164.48 
L 212.83 -151.63 
L 206.17 -151.39 
L 199.52 -151.19 
L 192.87 -150.94 
L 186.22 -144.23 
L 179.56 -153.43 
L 172.91 -144.05 
L 166.26 -143.32 
L 159.61 -147.60 
L 152.95 -142.10 
L 146.30 -136.61 
L 139.65 -142.43 
L 132.99 -184.09 
L 126.34 -192.65 
L 119.69 -198.73 
L 113.04 -193.20 
L 106.38 -170.42 
L 99.73 -174.70 
L 93.08 -192.65 
z
" transform="translate(0 306)" style="stroke: #fdad60; fill: #fdad60; stroke: #fdad60"/>
    </g>
   </g>
   <g id="FillBetweenPolyCollection_11">
    
    <g clip-path="url(#p6c97a003e6)">
     <path d="M 93.08 -193.48 
L 93.08 -192.65 
L 99.73 -174.70 
L 106.38 -170.42 
L 113.04 -193.20 
L 119.69 -198.73 
L 126.34 -192.65 
L 132.99 -184.09 
L 139.65 -142.43 
L 146.30 -136.61 
L 152.95 -142.10 
L 159.61 -147.60 
L 166.26 -143.32 
L 172.91 -144.05 
L 179.56 -153.43 
L 186.22 -144.23 
L 192.87 -150.94 
L 199.52 -151.19 
L 206.17 -151.39 
L 212.83 -151.63 
L 219.48 -164.48 
L 226.13 -138.92 
L 232.79 -139.22 
L 239.44 -136.72 
L 246.09 -139.54 
L 252.74 -142.06 
L 259.40 -152.46 
L 266.05 -162.82 
L 272.70 -162.27 
L 279.36 -262.25 
L 286.01 -199.00 
L 292.66 -192.10 
L 299.31 -147.08 
L 305.97 -155.64 
L 312.62 -140.45 
L 319.27 -159.09 
L 325.92 -201.21 
L 332.58 -137.47 
L 339.23 -133.60 
L 345.88 -137.00 
L 352.54 -138.79 
L 359.19 -132.33 
L 365.84 -139.90 
L 372.49 -146.93 
L 379.15 -137.80 
L 385.80 -132.07 
L 392.45 -135.49 
L 399.10 -133.31 
L 405.76 -151.77 
L 412.41 -137.60 
L 419.06 -146.72 
L 425.72 -157.85 
L 432.37 -133.82 
L 439.02 -134.65 
L 445.67 -175.39 
L 452.33 -131.15 
L 458.98 -130.31 
L 465.63 -131.57 
L 472.29 -159.92 
L 478.94 -181.60 
L 485.59 -141.55 
L 492.24 -178.84 
L 498.90 -164.89 
L 498.90 -169.04 
L 498.90 -169.04 
L 492.24 -180.64 
L 485.59 -142.93 
L 478.94 -182.71 
L 472.29 -160.33 
L 465.63 -131.75 
L 458.98 -130.51 
L 452.33 -131.33 
L 445.67 -176.35 
L 439.02 -135.48 
L 432.37 -134.23 
L 425.72 -158.26 
L 419.06 -147.19 
L 412.41 -138.20 
L 405.76 -153.15 
L 399.10 -134.57 
L 392.45 -136.43 
L 385.80 -132.70 
L 379.15 -138.96 
L 372.49 -147.77 
L 365.84 -140.86 
L 359.19 -132.62 
L 352.54 -139.62 
L 345.88 -138.17 
L 339.23 -134.11 
L 332.58 -138.25 
L 325.92 -202.32 
L 319.27 -160.33 
L 312.62 -141.28 
L 305.97 -156.74 
L 299.31 -147.91 
L 292.66 -193.20 
L 286.01 -199.97 
L 279.36 -263.08 
L 272.70 -163.65 
L 266.05 -164.89 
L 259.40 -154.53 
L 252.74 -143.68 
L 246.09 -140.16 
L 239.44 -137.34 
L 232.79 -140.16 
L 226.13 -139.70 
L 219.48 -165.31 
L 212.83 -153.29 
L 206.17 -153.13 
L 199.52 -153.13 
L 192.87 -152.38 
L 186.22 -145.30 
L 179.56 -155.36 
L 172.91 -145.30 
L 166.26 -144.76 
L 159.61 -149.56 
L 152.95 -143.46 
L 146.30 -137.37 
L 139.65 -143.84 
L 132.99 -191.82 
L 126.34 -195.14 
L 119.69 -200.52 
L 113.04 -193.89 
L 106.38 -171.11 
L 99.73 -175.25 
L 93.08 -193.48 
z
" transform="translate(0 306)" style="stroke: #fdbf6f; fill: #fdbf6f; stroke: #fdbf6f"/>
    </g>
   </g>
   <g id="FillBetweenPolyCollection_12">
    
    <g clip-path="url(#p6c97a003e6)">
     <path d="M 93.08 -193.69 
L 93.08 -193.48 
L 99.73 -175.25 
L 106.38 -171.11 
L 113.04 -193.89 
L 119.69 -200.52 
L 126.34 -195.14 
L 132.99 -191.82 
L 139.65 -143.84 
L 146.30 -137.37 
L 152.95 -143.46 
L 159.61 -149.56 
L 166.26 -144.76 
L 172.91 -145.30 
L 179.56 -155.36 
L 186.22 -145.30 
L 192.87 -152.38 
L 199.52 -153.13 
L 206.17 -153.13 
L 212.83 -153.29 
L 219.48 -165.31 
L 226.13 -139.70 
L 232.79 -140.16 
L 239.44 -137.34 
L 246.09 -140.16 
L 252.74 -143.68 
L 259.40 -154.53 
L 266.05 -164.89 
L 272.70 -163.65 
L 279.36 -263.08 
L 286.01 -199.97 
L 292.66 -193.20 
L 299.31 -147.91 
L 305.97 -156.74 
L 312.62 -141.28 
L 319.27 -160.33 
L 325.92 -202.32 
L 332.58 -138.25 
L 339.23 -134.11 
L 345.88 -138.17 
L 352.54 -139.62 
L 359.19 -132.62 
L 365.84 -140.86 
L 372.49 -147.77 
L 379.15 -138.96 
L 385.80 -132.70 
L 392.45 -136.43 
L 399.10 -134.57 
L 405.76 -153.15 
L 412.41 -138.20 
L 419.06 -147.19 
L 425.72 -158.26 
L 432.37 -134.23 
L 439.02 -135.48 
L 445.67 -176.35 
L 452.33 -131.33 
L 458.98 -130.51 
L 465.63 -131.75 
L 472.29 -160.33 
L 478.94 -182.71 
L 485.59 -142.93 
L 492.24 -180.64 
L 498.90 -169.04 
L 498.90 -171.11 
L 498.90 -171.11 
L 492.24 -181.46 
L 485.59 -143.69 
L 478.94 -183.12 
L 472.29 -160.75 
L 465.63 -132.01 
L 458.98 -130.84 
L 452.33 -131.73 
L 445.67 -177.32 
L 439.02 -137.11 
L 432.37 -134.65 
L 425.72 -158.68 
L 419.06 -147.66 
L 412.41 -138.79 
L 405.76 -154.53 
L 399.10 -134.72 
L 392.45 -136.55 
L 385.80 -132.82 
L 379.15 -139.46 
L 372.49 -148.61 
L 365.84 -141.22 
L 359.19 -132.75 
L 352.54 -139.76 
L 345.88 -138.34 
L 339.23 -134.27 
L 332.58 -138.48 
L 325.92 -203.42 
L 319.27 -161.58 
L 312.62 -142.11 
L 305.97 -157.85 
L 299.31 -148.73 
L 292.66 -194.31 
L 286.01 -200.94 
L 279.36 -263.91 
L 272.70 -164.06 
L 266.05 -166.27 
L 259.40 -156.61 
L 252.74 -145.30 
L 246.09 -140.35 
L 239.44 -137.58 
L 232.79 -140.35 
L 226.13 -139.97 
L 219.48 -165.58 
L 212.83 -153.57 
L 206.17 -153.36 
L 199.52 -153.36 
L 192.87 -152.74 
L 186.22 -145.52 
L 179.56 -155.92 
L 172.91 -145.57 
L 166.26 -145.01 
L 159.61 -149.84 
L 152.95 -143.75 
L 146.30 -137.53 
L 139.65 -144.13 
L 132.99 -192.17 
L 126.34 -195.41 
L 119.69 -200.69 
L 113.04 -194.17 
L 106.38 -171.24 
L 99.73 -175.39 
L 93.08 -193.69 
z
" transform="translate(0 306)" style="stroke: #fece7c; fill: #fece7c; stroke: #fece7c"/>
    </g>
   </g>
   <g id="FillBetweenPolyCollection_13">
    
    <g clip-path="url(#p6c97a003e6)">
     <path d="M 93.08 -193.89 
L 93.08 -193.69 
L 99.73 -175.39 
L 106.38 -171.24 
L 113.04 -194.17 
L 119.69 -200.69 
L 126.34 -195.41 
L 132.99 -192.17 
L 139.65 -144.13 
L 146.30 -137.53 
L 152.95 -143.75 
L 159.61 -149.84 
L 166.26 -145.01 
L 172.91 -145.57 
L 179.56 -155.92 
L 186.22 -145.52 
L 192.87 -152.74 
L 199.52 -153.36 
L 206.17 -153.36 
L 212.83 -153.57 
L 219.48 -165.58 
L 226.13 -139.97 
L 232.79 -140.35 
L 239.44 -137.58 
L 246.09 -140.35 
L 252.74 -145.30 
L 259.40 -156.61 
L 266.05 -166.27 
L 272.70 -164.06 
L 279.36 -263.91 
L 286.01 -200.94 
L 292.66 -194.31 
L 299.31 -148.73 
L 305.97 -157.85 
L 312.62 -142.11 
L 319.27 -161.58 
L 325.92 -203.42 
L 332.58 -138.48 
L 339.23 -134.27 
L 345.88 -138.34 
L 352.54 -139.76 
L 359.19 -132.75 
L 365.84 -141.22 
L 372.49 -148.61 
L 379.15 -139.46 
L 385.80 -132.82 
L 392.45 -136.55 
L 399.10 -134.72 
L 405.76 -154.53 
L 412.41 -138.79 
L 419.06 -147.66 
L 425.72 -158.68 
L 432.37 -134.65 
L 439.02 -137.11 
L 445.67 -177.32 
L 452.33 -131.73 
L 458.98 -130.84 
L 465.63 -132.01 
L 472.29 -160.75 
L 478.94 -183.12 
L 485.59 -143.69 
L 492.24 -181.46 
L 498.90 -171.11 
L 498.90 -173.18 
L 498.90 -173.18 
L 492.24 -182.29 
L 485.59 -144.45 
L 478.94 -183.54 
L 472.29 -161.00 
L 465.63 -132.27 
L 458.98 -131.17 
L 452.33 -132.13 
L 445.67 -178.40 
L 439.02 -138.75 
L 432.37 -136.97 
L 425.72 -159.09 
L 419.06 -148.37 
L 412.41 -139.12 
L 405.76 -156.19 
L 399.10 -134.87 
L 392.45 -136.66 
L 385.80 -132.94 
L 379.15 -139.97 
L 372.49 -149.84 
L 365.84 -141.58 
L 359.19 -132.88 
L 352.54 -139.90 
L 345.88 -138.52 
L 339.23 -134.43 
L 332.58 -138.71 
L 325.92 -204.09 
L 319.27 -162.41 
L 312.62 -142.93 
L 305.97 -158.51 
L 299.31 -149.07 
L 292.66 -194.72 
L 286.01 -201.52 
L 279.36 -264.49 
L 272.70 -164.48 
L 266.05 -167.65 
L 259.40 -157.60 
L 252.74 -145.74 
L 246.09 -140.53 
L 239.44 -137.82 
L 232.79 -140.53 
L 226.13 -140.23 
L 219.48 -165.86 
L 212.83 -153.84 
L 206.17 -153.60 
L 199.52 -153.60 
L 192.87 -153.10 
L 186.22 -145.74 
L 179.56 -156.47 
L 172.91 -145.83 
L 166.26 -145.25 
L 159.61 -150.12 
L 152.95 -144.04 
L 146.30 -137.69 
L 139.65 -144.43 
L 132.99 -192.51 
L 126.34 -195.69 
L 119.69 -200.87 
L 113.04 -194.45 
L 106.38 -171.38 
L 99.73 -175.53 
L 93.08 -193.89 
z
" transform="translate(0 306)" style="stroke: #fee08b; fill: #fee08b; stroke: #fee08b"/>
    </g>
   </g>
   <g id="FillBetweenPolyCollection_14">
    
    <g clip-path="url(#p6c97a003e6)">
     <path d="M 93.08 -194.10 
L 93.08 -193.89 
L 99.73 -175.53 
L 106.38 -171.38 
L 113.04 -194.45 
L 119.69 -200.87 
L 126.34 -195.69 
L 132.99 -192.51 
L 139.65 -144.43 
L 146.30 -137.69 
L 152.95 -144.04 
L 159.61 -150.12 
L 166.26 -145.25 
L 172.91 -145.83 
L 179.56 -156.47 
L 186.22 -145.74 
L 192.87 -153.10 
L 199.52 -153.60 
L 206.17 -153.60 
L 212.83 -153.84 
L 219.48 -165.86 
L 226.13 -140.23 
L 232.79 -140.53 
L 239.44 -137.82 
L 246.09 -140.53 
L 252.74 -145.74 
L 259.40 -157.60 
L 266.05 -167.65 
L 272.70 -164.48 
L 279.36 -264.49 
L 286.01 -201.52 
L 292.66 -194.72 
L 299.31 -149.07 
L 305.97 -158.51 
L 312.62 -142.93 
L 319.27 -162.41 
L 325.92 -204.09 
L 332.58 -138.71 
L 339.23 -134.43 
L 345.88 -138.52 
L 352.54 -139.90 
L 359.19 -132.88 
L 365.84 -141.58 
L 372.49 -149.84 
L 379.15 -139.97 
L 385.80 -132.94 
L 392.45 -136.66 
L 399.10 -134.87 
L 405.76 -156.19 
L 412.41 -139.12 
L 419.06 -148.37 
L 425.72 -159.09 
L 432.37 -136.97 
L 439.02 -138.75 
L 445.67 -178.40 
L 452.33 -132.13 
L 458.98 -131.17 
L 465.63 -132.27 
L 472.29 -161.00 
L 478.94 -183.54 
L 485.59 -144.45 
L 492.24 -182.29 
L 498.90 -173.18 
L 498.90 -175.25 
L 498.90 -175.25 
L 492.24 -183.12 
L 485.59 -145.21 
L 478.94 -183.95 
L 472.29 -161.25 
L 465.63 -132.54 
L 458.98 -131.50 
L 452.33 -132.54 
L 445.67 -179.48 
L 439.02 -140.39 
L 432.37 -139.29 
L 425.72 -159.51 
L 419.06 -149.08 
L 412.41 -139.45 
L 405.76 -157.85 
L 399.10 -135.02 
L 392.45 -136.78 
L 385.80 -133.05 
L 379.15 -140.47 
L 372.49 -151.06 
L 365.84 -141.94 
L 359.19 -133.01 
L 352.54 -140.03 
L 345.88 -138.69 
L 339.23 -134.59 
L 332.58 -138.94 
L 325.92 -204.75 
L 319.27 -163.24 
L 312.62 -143.76 
L 305.97 -159.17 
L 299.31 -149.40 
L 292.66 -195.14 
L 286.01 -202.10 
L 279.36 -265.07 
L 272.70 -164.89 
L 266.05 -169.04 
L 259.40 -158.59 
L 252.74 -146.17 
L 246.09 -140.72 
L 239.44 -138.07 
L 232.79 -140.72 
L 226.13 -140.49 
L 219.48 -166.14 
L 212.83 -154.12 
L 206.17 -153.83 
L 199.52 -153.83 
L 192.87 -153.46 
L 186.22 -145.96 
L 179.56 -157.02 
L 172.91 -146.10 
L 166.26 -145.50 
L 159.61 -150.39 
L 152.95 -144.33 
L 146.30 -137.85 
L 139.65 -144.72 
L 132.99 -192.86 
L 126.34 -195.96 
L 119.69 -201.04 
L 113.04 -194.72 
L 106.38 -171.52 
L 99.73 -175.66 
L 93.08 -194.10 
z
" transform="translate(0 306)" style="stroke: #feea9b; fill: #feea9b; stroke: #feea9b"/>
    </g>
   </g>
   <g id="FillBetweenPolyCollection_15">
    
    <g clip-path="url(#p6c97a003e6)">
     <path d="M 93.08 -194.31 
L 93.08 -194.10 
L 99.73 -175.66 
L 106.38 -171.52 
L 113.04 -194.72 
L 119.69 -201.04 
L 126.34 -195.96 
L 132.99 -192.86 
L 139.65 -144.72 
L 146.30 -137.85 
L 152.95 -144.33 
L 159.61 -150.39 
L 166.26 -145.50 
L 172.91 -146.10 
L 179.56 -157.02 
L 186.22 -145.96 
L 192.87 -153.46 
L 199.52 -153.83 
L 206.17 -153.83 
L 212.83 -154.12 
L 219.48 -166.14 
L 226.13 -140.49 
L 232.79 -140.72 
L 239.44 -138.07 
L 246.09 -140.72 
L 252.74 -146.17 
L 259.40 -158.59 
L 266.05 -169.04 
L 272.70 -164.89 
L 279.36 -265.07 
L 286.01 -202.10 
L 292.66 -195.14 
L 299.31 -149.40 
L 305.97 -159.17 
L 312.62 -143.76 
L 319.27 -163.24 
L 325.92 -204.75 
L 332.58 -138.94 
L 339.23 -134.59 
L 345.88 -138.69 
L 352.54 -140.03 
L 359.19 -133.01 
L 365.84 -141.94 
L 372.49 -151.06 
L 379.15 -140.47 
L 385.80 -133.05 
L 392.45 -136.78 
L 399.10 -135.02 
L 405.76 -157.85 
L 412.41 -139.45 
L 419.06 -149.08 
L 425.72 -159.51 
L 432.37 -139.29 
L 439.02 -140.39 
L 445.67 -179.48 
L 452.33 -132.54 
L 458.98 -131.50 
L 465.63 -132.54 
L 472.29 -161.25 
L 478.94 -183.95 
L 485.59 -145.21 
L 492.24 -183.12 
L 498.90 -175.25 
L 498.90 -177.32 
L 498.90 -177.32 
L 492.24 -183.95 
L 485.59 -145.97 
L 478.94 -184.36 
L 472.29 -161.50 
L 465.63 -132.80 
L 458.98 -131.83 
L 452.33 -132.94 
L 445.67 -180.55 
L 439.02 -142.02 
L 432.37 -141.61 
L 425.72 -159.92 
L 419.06 -149.80 
L 412.41 -139.79 
L 405.76 -159.51 
L 399.10 -135.17 
L 392.45 -136.90 
L 385.80 -133.17 
L 379.15 -140.97 
L 372.49 -152.29 
L 365.84 -142.30 
L 359.19 -133.14 
L 352.54 -140.17 
L 345.88 -138.86 
L 339.23 -134.75 
L 332.58 -139.16 
L 325.92 -205.41 
L 319.27 -164.06 
L 312.62 -144.59 
L 305.97 -159.84 
L 299.31 -149.73 
L 292.66 -195.55 
L 286.01 -202.68 
L 279.36 -265.65 
L 272.70 -165.31 
L 266.05 -170.42 
L 259.40 -159.59 
L 252.74 -146.61 
L 246.09 -140.90 
L 239.44 -138.31 
L 232.79 -140.90 
L 226.13 -140.75 
L 219.48 -166.41 
L 212.83 -154.40 
L 206.17 -154.07 
L 199.52 -154.07 
L 192.87 -153.82 
L 186.22 -146.18 
L 179.56 -157.57 
L 172.91 -146.37 
L 166.26 -145.75 
L 159.61 -150.67 
L 152.95 -144.61 
L 146.30 -138.01 
L 139.65 -145.02 
L 132.99 -193.20 
L 126.34 -196.24 
L 119.69 -201.21 
L 113.04 -195.00 
L 106.38 -171.66 
L 99.73 -175.80 
L 93.08 -194.31 
z
" transform="translate(0 306)" style="stroke: #fff5ae; fill: #fff5ae; stroke: #fff5ae"/>
    </g>
   </g>
   <g id="FillBetweenPolyCollection_16">
    
    <g clip-path="url(#p6c97a003e6)">
     <path d="M 93.08 -194.51 
L 93.08 -194.31 
L 99.73 -175.80 
L 106.38 -171.66 
L 113.04 -195.00 
L 119.69 -201.21 
L 126.34 -196.24 
L 132.99 -193.20 
L 139.65 -145.02 
L 146.30 -138.01 
L 152.95 -144.61 
L 159.61 -150.67 
L 166.26 -145.75 
L 172.91 -146.37 
L 179.56 -157.57 
L 186.22 -146.18 
L 192.87 -153.82 
L 199.52 -154.07 
L 206.17 -154.07 
L 212.83 -154.40 
L 219.48 -166.41 
L 226.13 -140.75 
L 232.79 -140.90 
L 239.44 -138.31 
L 246.09 -140.90 
L 252.74 -146.61 
L 259.40 -159.59 
L 266.05 -170.42 
L 272.70 -165.31 
L 279.36 -265.65 
L 286.01 -202.68 
L 292.66 -195.55 
L 299.31 -149.73 
L 305.97 -159.84 
L 312.62 -144.59 
L 319.27 -164.06 
L 325.92 -205.41 
L 332.58 -139.16 
L 339.23 -134.75 
L 345.88 -138.86 
L 352.54 -140.17 
L 359.19 -133.14 
L 365.84 -142.30 
L 372.49 -152.29 
L 379.15 -140.97 
L 385.80 -133.17 
L 392.45 -136.90 
L 399.10 -135.17 
L 405.76 -159.51 
L 412.41 -139.79 
L 419.06 -149.80 
L 425.72 -159.92 
L 432.37 -141.61 
L 439.02 -142.02 
L 445.67 -180.55 
L 452.33 -132.94 
L 458.98 -131.83 
L 465.63 -132.80 
L 472.29 -161.50 
L 478.94 -184.36 
L 485.59 -145.97 
L 492.24 -183.95 
L 498.90 -177.32 
L 498.90 -179.39 
L 498.90 -179.39 
L 492.24 -184.78 
L 485.59 -146.73 
L 478.94 -184.78 
L 472.29 -161.74 
L 465.63 -133.06 
L 458.98 -132.16 
L 452.33 -133.34 
L 445.67 -181.63 
L 439.02 -143.66 
L 432.37 -143.93 
L 425.72 -160.33 
L 419.06 -150.51 
L 412.41 -140.12 
L 405.76 -161.16 
L 399.10 -135.33 
L 392.45 -137.02 
L 385.80 -133.29 
L 379.15 -141.48 
L 372.49 -153.52 
L 365.84 -142.66 
L 359.19 -133.27 
L 352.54 -140.31 
L 345.88 -139.03 
L 339.23 -134.90 
L 332.58 -139.39 
L 325.92 -206.07 
L 319.27 -164.89 
L 312.62 -145.42 
L 305.97 -160.50 
L 299.31 -150.06 
L 292.66 -195.96 
L 286.01 -203.26 
L 279.36 -266.23 
L 272.70 -165.72 
L 266.05 -171.80 
L 259.40 -160.58 
L 252.74 -147.05 
L 246.09 -141.09 
L 239.44 -138.55 
L 232.79 -141.09 
L 226.13 -141.01 
L 219.48 -166.69 
L 212.83 -154.67 
L 206.17 -154.30 
L 199.52 -154.30 
L 192.87 -154.18 
L 186.22 -146.40 
L 179.56 -158.13 
L 172.91 -146.64 
L 166.26 -146.00 
L 159.61 -150.94 
L 152.95 -144.90 
L 146.30 -138.17 
L 139.65 -145.31 
L 132.99 -193.55 
L 126.34 -196.52 
L 119.69 -201.39 
L 113.04 -195.27 
L 106.38 -171.80 
L 99.73 -175.94 
L 93.08 -194.51 
z
" transform="translate(0 306)" style="stroke: #ffffbe; fill: #ffffbe; stroke: #ffffbe"/>
    </g>
   </g>
   <g id="FillBetweenPolyCollection_17">
    
    <g clip-path="url(#p6c97a003e6)">
     <path d="M 93.08 -194.72 
L 93.08 -194.51 
L 99.73 -175.94 
L 106.38 -171.80 
L 113.04 -195.27 
L 119.69 -201.39 
L 126.34 -196.52 
L 132.99 -193.55 
L 139.65 -145.31 
L 146.30 -138.17 
L 152.95 -144.90 
L 159.61 -150.94 
L 166.26 -146.00 
L 172.91 -146.64 
L 179.56 -158.13 
L 186.22 -146.40 
L 192.87 -154.18 
L 199.52 -154.30 
L 206.17 -154.30 
L 212.83 -154.67 
L 219.48 -166.69 
L 226.13 -141.01 
L 232.79 -141.09 
L 239.44 -138.55 
L 246.09 -141.09 
L 252.74 -147.05 
L 259.40 -160.58 
L 266.05 -171.80 
L 272.70 -165.72 
L 279.36 -266.23 
L 286.01 -203.26 
L 292.66 -195.96 
L 299.31 -150.06 
L 305.97 -160.50 
L 312.62 -145.42 
L 319.27 -164.89 
L 325.92 -206.07 
L 332.58 -139.39 
L 339.23 -134.90 
L 345.88 -139.03 
L 352.54 -140.31 
L 359.19 -133.27 
L 365.84 -142.66 
L 372.49 -153.52 
L 379.15 -141.48 
L 385.80 -133.29 
L 392.45 -137.02 
L 399.10 -135.33 
L 405.76 -161.16 
L 412.41 -140.12 
L 419.06 -150.51 
L 425.72 -160.33 
L 432.37 -143.93 
L 439.02 -143.66 
L 445.67 -181.63 
L 452.33 -133.34 
L 458.98 -132.16 
L 465.63 -133.06 
L 472.29 -161.74 
L 478.94 -184.78 
L 485.59 -146.73 
L 492.24 -184.78 
L 498.90 -179.39 
L 498.90 -181.46 
L 498.90 -181.46 
L 492.24 -185.61 
L 485.59 -147.49 
L 478.94 -185.19 
L 472.29 -161.99 
L 465.63 -133.32 
L 458.98 -132.49 
L 452.33 -133.74 
L 445.67 -182.71 
L 439.02 -145.30 
L 432.37 -146.25 
L 425.72 -160.75 
L 419.06 -151.22 
L 412.41 -140.45 
L 405.76 -162.82 
L 399.10 -135.48 
L 392.45 -137.13 
L 385.80 -133.41 
L 379.15 -141.98 
L 372.49 -154.74 
L 365.84 -143.02 
L 359.19 -133.41 
L 352.54 -140.45 
L 345.88 -139.21 
L 339.23 -135.06 
L 332.58 -139.62 
L 325.92 -206.74 
L 319.27 -165.72 
L 312.62 -146.25 
L 305.97 -161.16 
L 299.31 -150.39 
L 292.66 -196.38 
L 286.01 -203.84 
L 279.36 -266.81 
L 272.70 -166.14 
L 266.05 -173.18 
L 259.40 -161.58 
L 252.74 -147.49 
L 246.09 -141.28 
L 239.44 -138.79 
L 232.79 -141.28 
L 226.13 -141.28 
L 219.48 -166.96 
L 212.83 -154.95 
L 206.17 -154.53 
L 199.52 -154.53 
L 192.87 -154.53 
L 186.22 -146.62 
L 179.56 -158.68 
L 172.91 -146.91 
L 166.26 -146.25 
L 159.61 -151.22 
L 152.95 -145.19 
L 146.30 -138.33 
L 139.65 -145.61 
L 132.99 -193.89 
L 126.34 -196.79 
L 119.69 -201.56 
L 113.04 -195.55 
L 106.38 -171.94 
L 99.73 -176.08 
L 93.08 -194.72 
z
" transform="translate(0 306)" style="stroke: #f7fcb2; fill: #f7fcb2; stroke: #f7fcb2"/>
    </g>
   </g>
   <g id="FillBetweenPolyCollection_18">
    
    <g clip-path="url(#p6c97a003e6)">
     <path d="M 93.08 -194.97 
L 93.08 -194.72 
L 99.73 -176.08 
L 106.38 -171.94 
L 113.04 -195.55 
L 119.69 -201.56 
L 126.34 -196.79 
L 132.99 -193.89 
L 139.65 -145.61 
L 146.30 -138.33 
L 152.95 -145.19 
L 159.61 -151.22 
L 166.26 -146.25 
L 172.91 -146.91 
L 179.56 -158.68 
L 186.22 -146.62 
L 192.87 -154.53 
L 199.52 -154.53 
L 206.17 -154.53 
L 212.83 -154.95 
L 219.48 -166.96 
L 226.13 -141.28 
L 232.79 -141.28 
L 239.44 -138.79 
L 246.09 -141.28 
L 252.74 -147.49 
L 259.40 -161.58 
L 266.05 -173.18 
L 272.70 -166.14 
L 279.36 -266.81 
L 286.01 -203.84 
L 292.66 -196.38 
L 299.31 -150.39 
L 305.97 -161.16 
L 312.62 -146.25 
L 319.27 -165.72 
L 325.92 -206.74 
L 332.58 -139.62 
L 339.23 -135.06 
L 345.88 -139.21 
L 352.54 -140.45 
L 359.19 -133.41 
L 365.84 -143.02 
L 372.49 -154.74 
L 379.15 -141.98 
L 385.80 -133.41 
L 392.45 -137.13 
L 399.10 -135.48 
L 405.76 -162.82 
L 412.41 -140.45 
L 419.06 -151.22 
L 425.72 -160.75 
L 432.37 -146.25 
L 439.02 -145.30 
L 445.67 -182.71 
L 452.33 -133.74 
L 458.98 -132.49 
L 465.63 -133.32 
L 472.29 -161.99 
L 478.94 -185.19 
L 485.59 -147.49 
L 492.24 -185.61 
L 498.90 -181.46 
L 498.90 -188.92 
L 498.90 -188.92 
L 492.24 -193.48 
L 485.59 -148.24 
L 478.94 -185.61 
L 472.29 -162.16 
L 465.63 -133.50 
L 458.98 -132.68 
L 452.33 -133.92 
L 445.67 -183.54 
L 439.02 -145.98 
L 432.37 -146.50 
L 425.72 -161.16 
L 419.06 -151.55 
L 412.41 -140.57 
L 405.76 -163.82 
L 399.10 -135.76 
L 392.45 -137.37 
L 385.80 -133.64 
L 379.15 -142.40 
L 372.49 -156.07 
L 365.84 -143.41 
L 359.19 -133.62 
L 352.54 -140.66 
L 345.88 -139.46 
L 339.23 -135.25 
L 332.58 -139.87 
L 325.92 -207.23 
L 319.27 -166.14 
L 312.62 -146.83 
L 305.97 -161.83 
L 299.31 -150.72 
L 292.66 -196.63 
L 286.01 -204.33 
L 279.36 -267.39 
L 272.70 -166.63 
L 266.05 -175.25 
L 259.40 -163.15 
L 252.74 -148.49 
L 246.09 -141.70 
L 239.44 -139.06 
L 232.79 -141.52 
L 226.13 -141.53 
L 219.48 -167.46 
L 212.83 -155.20 
L 206.17 -154.82 
L 199.52 -154.82 
L 192.87 -154.97 
L 186.22 -147.04 
L 179.56 -159.42 
L 172.91 -147.11 
L 166.26 -146.50 
L 159.61 -151.63 
L 152.95 -145.45 
L 146.30 -138.47 
L 139.65 -145.87 
L 132.99 -194.06 
L 126.34 -197.21 
L 119.69 -202.65 
L 113.04 -196.48 
L 106.38 -172.10 
L 99.73 -176.24 
L 93.08 -194.97 
z
" transform="translate(0 306)" style="stroke: #eef8a4; fill: #eef8a4; stroke: #eef8a4"/>
    </g>
   </g>
   <g id="FillBetweenPolyCollection_19">
    
    <g clip-path="url(#p6c97a003e6)">
     <path d="M 93.08 -195.22 
L 93.08 -194.97 
L 99.73 -176.24 
L 106.38 -172.10 
L 113.04 -196.48 
L 119.69 -202.65 
L 126.34 -197.21 
L 132.99 -194.06 
L 139.65 -145.87 
L 146.30 -138.47 
L 152.95 -145.45 
L 159.61 -151.63 
L 166.26 -146.50 
L 172.91 -147.11 
L 179.56 -159.42 
L 186.22 -147.04 
L 192.87 -154.97 
L 199.52 -154.82 
L 206.17 -154.82 
L 212.83 -155.20 
L 219.48 -167.46 
L 226.13 -141.53 
L 232.79 -141.52 
L 239.44 -139.06 
L 246.09 -141.70 
L 252.74 -148.49 
L 259.40 -163.15 
L 266.05 -175.25 
L 272.70 -166.63 
L 279.36 -267.39 
L 286.01 -204.33 
L 292.66 -196.63 
L 299.31 -150.72 
L 305.97 -161.83 
L 312.62 -146.83 
L 319.27 -166.14 
L 325.92 -207.23 
L 332.58 -139.87 
L 339.23 -135.25 
L 345.88 -139.46 
L 352.54 -140.66 
L 359.19 -133.62 
L 365.84 -143.41 
L 372.49 -156.07 
L 379.15 -142.40 
L 385.80 -133.64 
L 392.45 -137.37 
L 399.10 -135.76 
L 405.76 -163.82 
L 412.41 -140.57 
L 419.06 -151.55 
L 425.72 -161.16 
L 432.37 -146.50 
L 439.02 -145.98 
L 445.67 -183.54 
L 452.33 -133.92 
L 458.98 -132.68 
L 465.63 -133.50 
L 472.29 -162.16 
L 478.94 -185.61 
L 485.59 -148.24 
L 492.24 -193.48 
L 498.90 -188.92 
L 498.90 -196.38 
L 498.90 -196.38 
L 492.24 -201.35 
L 485.59 -148.98 
L 478.94 -186.02 
L 472.29 -162.32 
L 465.63 -133.69 
L 458.98 -132.86 
L 452.33 -134.10 
L 445.67 -184.36 
L 439.02 -146.67 
L 432.37 -146.75 
L 425.72 -161.58 
L 419.06 -151.88 
L 412.41 -140.70 
L 405.76 -164.81 
L 399.10 -136.04 
L 392.45 -137.60 
L 385.80 -133.87 
L 379.15 -142.81 
L 372.49 -157.39 
L 365.84 -143.81 
L 359.19 -133.84 
L 352.54 -140.86 
L 345.88 -139.72 
L 339.23 -135.43 
L 332.58 -140.12 
L 325.92 -207.73 
L 319.27 -166.55 
L 312.62 -147.41 
L 305.97 -162.49 
L 299.31 -151.05 
L 292.66 -196.88 
L 286.01 -204.83 
L 279.36 -267.97 
L 272.70 -167.13 
L 266.05 -177.32 
L 259.40 -164.73 
L 252.74 -149.48 
L 246.09 -142.12 
L 239.44 -139.34 
L 232.79 -141.76 
L 226.13 -141.77 
L 219.48 -167.96 
L 212.83 -155.45 
L 206.17 -155.11 
L 199.52 -155.11 
L 192.87 -155.41 
L 186.22 -147.47 
L 179.56 -160.17 
L 172.91 -147.31 
L 166.26 -146.75 
L 159.61 -152.05 
L 152.95 -145.71 
L 146.30 -138.62 
L 139.65 -146.14 
L 132.99 -194.22 
L 126.34 -197.62 
L 119.69 -203.73 
L 113.04 -197.41 
L 106.38 -172.27 
L 99.73 -176.41 
L 93.08 -195.22 
z
" transform="translate(0 306)" style="stroke: #e6f598; fill: #e6f598; stroke: #e6f598"/>
    </g>
   </g>
   <g id="FillBetweenPolyCollection_20">
    
    <g clip-path="url(#p6c97a003e6)">
     <path d="M 93.08 -195.47 
L 93.08 -195.22 
L 99.73 -176.41 
L 106.38 -172.27 
L 113.04 -197.41 
L 119.69 -203.73 
L 126.34 -197.62 
L 132.99 -194.22 
L 139.65 -146.14 
L 146.30 -138.62 
L 152.95 -145.71 
L 159.61 -152.05 
L 166.26 -146.75 
L 172.91 -147.31 
L 179.56 -160.17 
L 186.22 -147.47 
L 192.87 -155.41 
L 199.52 -155.11 
L 206.17 -155.11 
L 212.83 -155.45 
L 219.48 -167.96 
L 226.13 -141.77 
L 232.79 -141.76 
L 239.44 -139.34 
L 246.09 -142.12 
L 252.74 -149.48 
L 259.40 -164.73 
L 266.05 -177.32 
L 272.70 -167.13 
L 279.36 -267.97 
L 286.01 -204.83 
L 292.66 -196.88 
L 299.31 -151.05 
L 305.97 -162.49 
L 312.62 -147.41 
L 319.27 -166.55 
L 325.92 -207.73 
L 332.58 -140.12 
L 339.23 -135.43 
L 345.88 -139.72 
L 352.54 -140.86 
L 359.19 -133.84 
L 365.84 -143.81 
L 372.49 -157.39 
L 379.15 -142.81 
L 385.80 -133.87 
L 392.45 -137.60 
L 399.10 -136.04 
L 405.76 -164.81 
L 412.41 -140.70 
L 419.06 -151.88 
L 425.72 -161.58 
L 432.37 -146.75 
L 439.02 -146.67 
L 445.67 -184.36 
L 452.33 -134.10 
L 458.98 -132.86 
L 465.63 -133.69 
L 472.29 -162.32 
L 478.94 -186.02 
L 485.59 -148.98 
L 492.24 -201.35 
L 498.90 -196.38 
L 498.90 -203.84 
L 498.90 -203.84 
L 492.24 -209.22 
L 485.59 -149.73 
L 478.94 -186.44 
L 472.29 -162.49 
L 465.63 -133.87 
L 458.98 -133.04 
L 452.33 -134.28 
L 445.67 -185.19 
L 439.02 -147.36 
L 432.37 -146.99 
L 425.72 -161.99 
L 419.06 -152.21 
L 412.41 -140.82 
L 405.76 -165.80 
L 399.10 -136.32 
L 392.45 -137.83 
L 385.80 -134.10 
L 379.15 -143.22 
L 372.49 -158.72 
L 365.84 -144.21 
L 359.19 -134.05 
L 352.54 -141.07 
L 345.88 -139.98 
L 339.23 -135.61 
L 332.58 -140.37 
L 325.92 -208.23 
L 319.27 -166.96 
L 312.62 -147.99 
L 305.97 -163.15 
L 299.31 -151.39 
L 292.66 -197.12 
L 286.01 -205.33 
L 279.36 -268.55 
L 272.70 -167.63 
L 266.05 -179.39 
L 259.40 -166.30 
L 252.74 -150.47 
L 246.09 -142.54 
L 239.44 -139.61 
L 232.79 -142.00 
L 226.13 -142.02 
L 219.48 -168.46 
L 212.83 -155.69 
L 206.17 -155.40 
L 199.52 -155.40 
L 192.87 -155.85 
L 186.22 -147.89 
L 179.56 -160.92 
L 172.91 -147.51 
L 166.26 -146.99 
L 159.61 -152.46 
L 152.95 -145.96 
L 146.30 -138.76 
L 139.65 -146.40 
L 132.99 -194.39 
L 126.34 -198.04 
L 119.69 -204.82 
L 113.04 -198.35 
L 106.38 -172.43 
L 99.73 -176.58 
L 93.08 -195.47 
z
" transform="translate(0 306)" style="stroke: #d1ed9c; fill: #d1ed9c; stroke: #d1ed9c"/>
    </g>
   </g>
   <g id="FillBetweenPolyCollection_21">
    
    <g clip-path="url(#p6c97a003e6)">
     <path d="M 93.08 -195.72 
L 93.08 -195.47 
L 99.73 -176.58 
L 106.38 -172.43 
L 113.04 -198.35 
L 119.69 -204.82 
L 126.34 -198.04 
L 132.99 -194.39 
L 139.65 -146.40 
L 146.30 -138.76 
L 152.95 -145.96 
L 159.61 -152.46 
L 166.26 -146.99 
L 172.91 -147.51 
L 179.56 -160.92 
L 186.22 -147.89 
L 192.87 -155.85 
L 199.52 -155.40 
L 206.17 -155.40 
L 212.83 -155.69 
L 219.48 -168.46 
L 226.13 -142.02 
L 232.79 -142.00 
L 239.44 -139.61 
L 246.09 -142.54 
L 252.74 -150.47 
L 259.40 -166.30 
L 266.05 -179.39 
L 272.70 -167.63 
L 279.36 -268.55 
L 286.01 -205.33 
L 292.66 -197.12 
L 299.31 -151.39 
L 305.97 -163.15 
L 312.62 -147.99 
L 319.27 -166.96 
L 325.92 -208.23 
L 332.58 -140.37 
L 339.23 -135.61 
L 345.88 -139.98 
L 352.54 -141.07 
L 359.19 -134.05 
L 365.84 -144.21 
L 372.49 -158.72 
L 379.15 -143.22 
L 385.80 -134.10 
L 392.45 -137.83 
L 399.10 -136.32 
L 405.76 -165.80 
L 412.41 -140.82 
L 419.06 -152.21 
L 425.72 -161.99 
L 432.37 -146.99 
L 439.02 -147.36 
L 445.67 -185.19 
L 452.33 -134.28 
L 458.98 -133.04 
L 465.63 -133.87 
L 472.29 -162.49 
L 478.94 -186.44 
L 485.59 -149.73 
L 492.24 -209.22 
L 498.90 -203.84 
L 498.90 -211.29 
L 498.90 -211.29 
L 492.24 -217.09 
L 485.59 -150.47 
L 478.94 -186.85 
L 472.29 -162.66 
L 465.63 -134.05 
L 458.98 -133.22 
L 452.33 -134.47 
L 445.67 -186.02 
L 439.02 -148.05 
L 432.37 -147.24 
L 425.72 -162.41 
L 419.06 -152.55 
L 412.41 -140.95 
L 405.76 -166.80 
L 399.10 -136.60 
L 392.45 -138.06 
L 385.80 -134.33 
L 379.15 -143.64 
L 372.49 -160.04 
L 365.84 -144.61 
L 359.19 -134.27 
L 352.54 -141.28 
L 345.88 -140.23 
L 339.23 -135.79 
L 332.58 -140.61 
L 325.92 -208.73 
L 319.27 -167.38 
L 312.62 -148.57 
L 305.97 -163.82 
L 299.31 -151.72 
L 292.66 -197.37 
L 286.01 -205.83 
L 279.36 -269.13 
L 272.70 -168.12 
L 266.05 -181.46 
L 259.40 -167.88 
L 252.74 -151.47 
L 246.09 -142.97 
L 239.44 -139.89 
L 232.79 -142.24 
L 226.13 -142.27 
L 219.48 -168.95 
L 212.83 -155.94 
L 206.17 -155.69 
L 199.52 -155.69 
L 192.87 -156.29 
L 186.22 -148.31 
L 179.56 -161.66 
L 172.91 -147.71 
L 166.26 -147.24 
L 159.61 -152.88 
L 152.95 -146.22 
L 146.30 -138.90 
L 139.65 -146.67 
L 132.99 -194.56 
L 126.34 -198.45 
L 119.69 -205.91 
L 113.04 -199.28 
L 106.38 -172.60 
L 99.73 -176.74 
L 93.08 -195.72 
z
" transform="translate(0 306)" style="stroke: #bfe5a0; fill: #bfe5a0; stroke: #bfe5a0"/>
    </g>
   </g>
   <g id="FillBetweenPolyCollection_22">
    
    <g clip-path="url(#p6c97a003e6)">
     <path d="M 93.08 -195.96 
L 93.08 -195.72 
L 99.73 -176.74 
L 106.38 -172.60 
L 113.04 -199.28 
L 119.69 -205.91 
L 126.34 -198.45 
L 132.99 -194.56 
L 139.65 -146.67 
L 146.30 -138.90 
L 152.95 -146.22 
L 159.61 -152.88 
L 166.26 -147.24 
L 172.91 -147.71 
L 179.56 -161.66 
L 186.22 -148.31 
L 192.87 -156.29 
L 199.52 -155.69 
L 206.17 -155.69 
L 212.83 -155.94 
L 219.48 -168.95 
L 226.13 -142.27 
L 232.79 -142.24 
L 239.44 -139.89 
L 246.09 -142.97 
L 252.74 -151.47 
L 259.40 -167.88 
L 266.05 -181.46 
L 272.70 -168.12 
L 279.36 -269.13 
L 286.01 -205.83 
L 292.66 -197.37 
L 299.31 -151.72 
L 305.97 -163.82 
L 312.62 -148.57 
L 319.27 -167.38 
L 325.92 -208.73 
L 332.58 -140.61 
L 339.23 -135.79 
L 345.88 -140.23 
L 352.54 -141.28 
L 359.19 -134.27 
L 365.84 -144.61 
L 372.49 -160.04 
L 379.15 -143.64 
L 385.80 -134.33 
L 392.45 -138.06 
L 399.10 -136.60 
L 405.76 -166.80 
L 412.41 -140.95 
L 419.06 -152.55 
L 425.72 -162.41 
L 432.37 -147.24 
L 439.02 -148.05 
L 445.67 -186.02 
L 452.33 -134.47 
L 458.98 -133.22 
L 465.63 -134.05 
L 472.29 -162.66 
L 478.94 -186.85 
L 485.59 -150.47 
L 492.24 -217.09 
L 498.90 -211.29 
L 498.90 -218.75 
L 498.90 -218.75 
L 492.24 -224.97 
L 485.59 -151.22 
L 478.94 -187.26 
L 472.29 -162.82 
L 465.63 -134.23 
L 458.98 -133.41 
L 452.33 -134.65 
L 445.67 -186.85 
L 439.02 -148.73 
L 432.37 -147.49 
L 425.72 -162.82 
L 419.06 -152.88 
L 412.41 -141.07 
L 405.76 -167.79 
L 399.10 -136.89 
L 392.45 -138.29 
L 385.80 -134.57 
L 379.15 -144.05 
L 372.49 -161.37 
L 365.84 -145.01 
L 359.19 -134.48 
L 352.54 -141.48 
L 345.88 -140.49 
L 339.23 -135.97 
L 332.58 -140.86 
L 325.92 -209.22 
L 319.27 -167.79 
L 312.62 -149.15 
L 305.97 -164.48 
L 299.31 -152.05 
L 292.66 -197.62 
L 286.01 -206.32 
L 279.36 -269.71 
L 272.70 -168.62 
L 266.05 -183.54 
L 259.40 -169.45 
L 252.74 -152.46 
L 246.09 -143.39 
L 239.44 -140.16 
L 232.79 -142.48 
L 226.13 -142.52 
L 219.48 -169.45 
L 212.83 -156.19 
L 206.17 -155.98 
L 199.52 -155.98 
L 192.87 -156.73 
L 186.22 -148.73 
L 179.56 -162.41 
L 172.91 -147.91 
L 166.26 -147.49 
L 159.61 -153.29 
L 152.95 -146.48 
L 146.30 -139.05 
L 139.65 -146.93 
L 132.99 -194.72 
L 126.34 -198.86 
L 119.69 -206.86 
L 113.04 -200.27 
L 106.38 -172.76 
L 99.73 -176.91 
L 93.08 -195.96 
z
" transform="translate(0 306)" style="stroke: #aadca4; fill: #aadca4; stroke: #aadca4"/>
    </g>
   </g>
   <g id="FillBetweenPolyCollection_23">
    
    <g clip-path="url(#p6c97a003e6)">
     <path d="M 93.08 -196.48 
L 93.08 -195.96 
L 99.73 -176.91 
L 106.38 -172.76 
L 113.04 -200.27 
L 119.69 -206.86 
L 126.34 -198.86 
L 132.99 -194.72 
L 139.65 -146.93 
L 146.30 -139.05 
L 152.95 -146.48 
L 159.61 -153.29 
L 166.26 -147.49 
L 172.91 -147.91 
L 179.56 -162.41 
L 186.22 -148.73 
L 192.87 -156.73 
L 199.52 -155.98 
L 206.17 -155.98 
L 212.83 -156.19 
L 219.48 -169.45 
L 226.13 -142.52 
L 232.79 -142.48 
L 239.44 -140.16 
L 246.09 -143.39 
L 252.74 -152.46 
L 259.40 -169.45 
L 266.05 -183.54 
L 272.70 -168.62 
L 279.36 -269.71 
L 286.01 -206.32 
L 292.66 -197.62 
L 299.31 -152.05 
L 305.97 -164.48 
L 312.62 -149.15 
L 319.27 -167.79 
L 325.92 -209.22 
L 332.58 -140.86 
L 339.23 -135.97 
L 345.88 -140.49 
L 352.54 -141.48 
L 359.19 -134.48 
L 365.84 -145.01 
L 372.49 -161.37 
L 379.15 -144.05 
L 385.80 -134.57 
L 392.45 -138.29 
L 399.10 -136.89 
L 405.76 -167.79 
L 412.41 -141.07 
L 419.06 -152.88 
L 425.72 -162.82 
L 432.37 -147.49 
L 439.02 -148.73 
L 445.67 -186.85 
L 452.33 -134.65 
L 458.98 -133.41 
L 465.63 -134.23 
L 472.29 -162.82 
L 478.94 -187.26 
L 485.59 -151.22 
L 492.24 -224.97 
L 498.90 -218.75 
L 498.90 -223.10 
L 498.90 -223.10 
L 492.24 -228.59 
L 485.59 -152.26 
L 478.94 -187.68 
L 472.29 -163.03 
L 465.63 -134.54 
L 458.98 -133.71 
L 452.33 -135.06 
L 445.67 -187.68 
L 439.02 -149.20 
L 432.37 -147.80 
L 425.72 -163.34 
L 419.06 -153.03 
L 412.41 -141.17 
L 405.76 -168.62 
L 399.10 -137.24 
L 392.45 -138.87 
L 385.80 -135.03 
L 379.15 -144.81 
L 372.49 -162.64 
L 365.84 -145.52 
L 359.19 -134.83 
L 352.54 -141.74 
L 345.88 -140.89 
L 339.23 -136.16 
L 332.58 -141.07 
L 325.92 -209.84 
L 319.27 -168.31 
L 312.62 -149.87 
L 305.97 -165.20 
L 299.31 -152.46 
L 292.66 -197.93 
L 286.01 -206.94 
L 279.36 -270.54 
L 272.70 -169.35 
L 266.05 -189.03 
L 259.40 -171.94 
L 252.74 -154.12 
L 246.09 -144.45 
L 239.44 -140.85 
L 232.79 -143.18 
L 226.13 -142.98 
L 219.48 -170.38 
L 212.83 -157.43 
L 206.17 -157.25 
L 199.52 -157.07 
L 192.87 -157.99 
L 186.22 -149.46 
L 179.56 -164.06 
L 172.91 -148.32 
L 166.26 -148.01 
L 159.61 -154.37 
L 152.95 -147.13 
L 146.30 -139.41 
L 139.65 -147.60 
L 132.99 -194.93 
L 126.34 -199.28 
L 119.69 -207.81 
L 113.04 -201.27 
L 106.38 -172.97 
L 99.73 -177.22 
L 93.08 -196.48 
z
" transform="translate(0 306)" style="stroke: #94d4a4; fill: #94d4a4; stroke: #94d4a4"/>
    </g>
   </g>
   <g id="FillBetweenPolyCollection_24">
    
    <g clip-path="url(#p6c97a003e6)">
     <path d="M 93.08 -197.00 
L 93.08 -196.48 
L 99.73 -177.22 
L 106.38 -172.97 
L 113.04 -201.27 
L 119.69 -207.81 
L 126.34 -199.28 
L 132.99 -194.93 
L 139.65 -147.60 
L 146.30 -139.41 
L 152.95 -147.13 
L 159.61 -154.37 
L 166.26 -148.01 
L 172.91 -148.32 
L 179.56 -164.06 
L 186.22 -149.46 
L 192.87 -157.99 
L 199.52 -157.07 
L 206.17 -157.25 
L 212.83 -157.43 
L 219.48 -170.38 
L 226.13 -142.98 
L 232.79 -143.18 
L 239.44 -140.85 
L 246.09 -144.45 
L 252.74 -154.12 
L 259.40 -171.94 
L 266.05 -189.03 
L 272.70 -169.35 
L 279.36 -270.54 
L 286.01 -206.94 
L 292.66 -197.93 
L 299.31 -152.46 
L 305.97 -165.20 
L 312.62 -149.87 
L 319.27 -168.31 
L 325.92 -209.84 
L 332.58 -141.07 
L 339.23 -136.16 
L 345.88 -140.89 
L 352.54 -141.74 
L 359.19 -134.83 
L 365.84 -145.52 
L 372.49 -162.64 
L 379.15 -144.81 
L 385.80 -135.03 
L 392.45 -138.87 
L 399.10 -137.24 
L 405.76 -168.62 
L 412.41 -141.17 
L 419.06 -153.03 
L 425.72 -163.34 
L 432.37 -147.80 
L 439.02 -149.20 
L 445.67 -187.68 
L 452.33 -135.06 
L 458.98 -133.71 
L 465.63 -134.54 
L 472.29 -163.03 
L 478.94 -187.68 
L 485.59 -152.26 
L 492.24 -228.59 
L 498.90 -223.10 
L 498.90 -227.45 
L 498.90 -227.45 
L 492.24 -232.22 
L 485.59 -153.29 
L 478.94 -188.09 
L 472.29 -163.24 
L 465.63 -134.86 
L 458.98 -134.01 
L 452.33 -135.48 
L 445.67 -188.51 
L 439.02 -149.67 
L 432.37 -148.11 
L 425.72 -163.86 
L 419.06 -153.19 
L 412.41 -141.28 
L 405.76 -169.45 
L 399.10 -137.59 
L 392.45 -139.45 
L 385.80 -135.50 
L 379.15 -145.57 
L 372.49 -163.92 
L 365.84 -146.04 
L 359.19 -135.19 
L 352.54 -142.00 
L 345.88 -141.30 
L 339.23 -136.35 
L 332.58 -141.28 
L 325.92 -210.47 
L 319.27 -168.83 
L 312.62 -150.60 
L 305.97 -165.93 
L 299.31 -152.88 
L 292.66 -198.24 
L 286.01 -207.57 
L 279.36 -271.37 
L 272.70 -170.07 
L 266.05 -194.51 
L 259.40 -174.42 
L 252.74 -155.78 
L 246.09 -145.50 
L 239.44 -141.55 
L 232.79 -143.89 
L 226.13 -143.43 
L 219.48 -171.31 
L 212.83 -158.68 
L 206.17 -158.51 
L 199.52 -158.16 
L 192.87 -159.26 
L 186.22 -150.18 
L 179.56 -165.72 
L 172.91 -148.73 
L 166.26 -148.53 
L 159.61 -155.45 
L 152.95 -147.77 
L 146.30 -139.77 
L 139.65 -148.26 
L 132.99 -195.14 
L 126.34 -199.69 
L 119.69 -208.77 
L 113.04 -202.26 
L 106.38 -173.18 
L 99.73 -177.53 
L 93.08 -197.00 
z
" transform="translate(0 306)" style="stroke: #7ccaa5; fill: #7ccaa5; stroke: #7ccaa5"/>
    </g>
   </g>
   <g id="FillBetweenPolyCollection_25">
    
    <g clip-path="url(#p6c97a003e6)">
     <path d="M 93.08 -197.52 
L 93.08 -197.00 
L 99.73 -177.53 
L 106.38 -173.18 
L 113.04 -202.26 
L 119.69 -208.77 
L 126.34 -199.69 
L 132.99 -195.14 
L 139.65 -148.26 
L 146.30 -139.77 
L 152.95 -147.77 
L 159.61 -155.45 
L 166.26 -148.53 
L 172.91 -148.73 
L 179.56 -165.72 
L 186.22 -150.18 
L 192.87 -159.26 
L 199.52 -158.16 
L 206.17 -158.51 
L 212.83 -158.68 
L 219.48 -171.31 
L 226.13 -143.43 
L 232.79 -143.89 
L 239.44 -141.55 
L 246.09 -145.50 
L 252.74 -155.78 
L 259.40 -174.42 
L 266.05 -194.51 
L 272.70 -170.07 
L 279.36 -271.37 
L 286.01 -207.57 
L 292.66 -198.24 
L 299.31 -152.88 
L 305.97 -165.93 
L 312.62 -150.60 
L 319.27 -168.83 
L 325.92 -210.47 
L 332.58 -141.28 
L 339.23 -136.35 
L 345.88 -141.30 
L 352.54 -142.00 
L 359.19 -135.19 
L 365.84 -146.04 
L 372.49 -163.92 
L 379.15 -145.57 
L 385.80 -135.50 
L 392.45 -139.45 
L 399.10 -137.59 
L 405.76 -169.45 
L 412.41 -141.28 
L 419.06 -153.19 
L 425.72 -163.86 
L 432.37 -148.11 
L 439.02 -149.67 
L 445.67 -188.51 
L 452.33 -135.48 
L 458.98 -134.01 
L 465.63 -134.86 
L 472.29 -163.24 
L 478.94 -188.09 
L 485.59 -153.29 
L 492.24 -232.22 
L 498.90 -227.45 
L 498.90 -231.80 
L 498.90 -231.80 
L 492.24 -235.84 
L 485.59 -154.33 
L 478.94 -188.51 
L 472.29 -163.44 
L 465.63 -135.17 
L 458.98 -134.31 
L 452.33 -135.89 
L 445.67 -189.34 
L 439.02 -150.13 
L 432.37 -148.42 
L 425.72 -164.37 
L 419.06 -153.34 
L 412.41 -141.38 
L 405.76 -170.28 
L 399.10 -137.94 
L 392.45 -140.03 
L 385.80 -135.96 
L 379.15 -146.32 
L 372.49 -165.19 
L 365.84 -146.56 
L 359.19 -135.54 
L 352.54 -142.26 
L 345.88 -141.70 
L 339.23 -136.53 
L 332.58 -141.48 
L 325.92 -211.09 
L 319.27 -169.35 
L 312.62 -151.32 
L 305.97 -166.65 
L 299.31 -153.29 
L 292.66 -198.55 
L 286.01 -208.19 
L 279.36 -272.20 
L 272.70 -170.80 
L 266.05 -200.00 
L 259.40 -176.91 
L 252.74 -157.43 
L 246.09 -146.56 
L 239.44 -142.24 
L 232.79 -144.59 
L 226.13 -143.89 
L 219.48 -172.25 
L 212.83 -159.92 
L 206.17 -159.78 
L 199.52 -159.25 
L 192.87 -160.52 
L 186.22 -150.91 
L 179.56 -167.38 
L 172.91 -149.15 
L 166.26 -149.05 
L 159.61 -156.52 
L 152.95 -148.42 
L 146.30 -140.13 
L 139.65 -148.92 
L 132.99 -195.34 
L 126.34 -200.11 
L 119.69 -209.72 
L 113.04 -203.26 
L 106.38 -173.39 
L 99.73 -177.84 
L 93.08 -197.52 
z
" transform="translate(0 306)" style="stroke: #66c2a5; fill: #66c2a5; stroke: #66c2a5"/>
    </g>
   </g>
   <g id="FillBetweenPolyCollection_26">
    
    <g clip-path="url(#p6c97a003e6)">
     <path d="M 93.08 -198.04 
L 93.08 -197.52 
L 99.73 -177.84 
L 106.38 -173.39 
L 113.04 -203.26 
L 119.69 -209.72 
L 126.34 -200.11 
L 132.99 -195.34 
L 139.65 -148.92 
L 146.30 -140.13 
L 152.95 -148.42 
L 159.61 -156.52 
L 166.26 -149.05 
L 172.91 -149.15 
L 179.56 -167.38 
L 186.22 -150.91 
L 192.87 -160.52 
L 199.52 -159.25 
L 206.17 -159.78 
L 212.83 -159.92 
L 219.48 -172.25 
L 226.13 -143.89 
L 232.79 -144.59 
L 239.44 -142.24 
L 246.09 -146.56 
L 252.74 -157.43 
L 259.40 -176.91 
L 266.05 -200.00 
L 272.70 -170.80 
L 279.36 -272.20 
L 286.01 -208.19 
L 292.66 -198.55 
L 299.31 -153.29 
L 305.97 -166.65 
L 312.62 -151.32 
L 319.27 -169.35 
L 325.92 -211.09 
L 332.58 -141.48 
L 339.23 -136.53 
L 345.88 -141.70 
L 352.54 -142.26 
L 359.19 -135.54 
L 365.84 -146.56 
L 372.49 -165.19 
L 379.15 -146.32 
L 385.80 -135.96 
L 392.45 -140.03 
L 399.10 -137.94 
L 405.76 -170.28 
L 412.41 -141.38 
L 419.06 -153.34 
L 425.72 -164.37 
L 432.37 -148.42 
L 439.02 -150.13 
L 445.67 -189.34 
L 452.33 -135.89 
L 458.98 -134.31 
L 465.63 -135.17 
L 472.29 -163.44 
L 478.94 -188.51 
L 485.59 -154.33 
L 492.24 -235.84 
L 498.90 -231.80 
L 498.90 -236.15 
L 498.90 -236.15 
L 492.24 -239.47 
L 485.59 -155.36 
L 478.94 -188.92 
L 472.29 -163.65 
L 465.63 -135.48 
L 458.98 -134.61 
L 452.33 -136.31 
L 445.67 -190.16 
L 439.02 -150.60 
L 432.37 -148.73 
L 425.72 -164.89 
L 419.06 -153.50 
L 412.41 -141.48 
L 405.76 -171.11 
L 399.10 -138.29 
L 392.45 -140.61 
L 385.80 -136.43 
L 379.15 -147.08 
L 372.49 -166.47 
L 365.84 -147.08 
L 359.19 -135.89 
L 352.54 -142.52 
L 345.88 -142.11 
L 339.23 -136.72 
L 332.58 -141.69 
L 325.92 -211.71 
L 319.27 -169.86 
L 312.62 -152.05 
L 305.97 -167.38 
L 299.31 -153.71 
L 292.66 -198.86 
L 286.01 -208.81 
L 279.36 -273.02 
L 272.70 -171.52 
L 266.05 -205.49 
L 259.40 -179.39 
L 252.74 -159.09 
L 246.09 -147.62 
L 239.44 -142.93 
L 232.79 -145.30 
L 226.13 -144.34 
L 219.48 -173.18 
L 212.83 -161.16 
L 206.17 -161.04 
L 199.52 -160.33 
L 192.87 -161.79 
L 186.22 -151.63 
L 179.56 -169.04 
L 172.91 -149.56 
L 166.26 -149.56 
L 159.61 -157.60 
L 152.95 -149.07 
L 146.30 -140.49 
L 139.65 -149.59 
L 132.99 -195.55 
L 126.34 -200.52 
L 119.69 -210.67 
L 113.04 -204.25 
L 106.38 -173.59 
L 99.73 -178.15 
L 93.08 -198.04 
z
" transform="translate(0 306)" style="stroke: #54aead; fill: #54aead; stroke: #54aead"/>
    </g>
   </g>
   <g id="FillBetweenPolyCollection_27">
    
    <g clip-path="url(#p6c97a003e6)">
     <path d="M 93.08 -198.64 
L 93.08 -198.04 
L 99.73 -178.15 
L 106.38 -173.59 
L 113.04 -204.25 
L 119.69 -210.67 
L 126.34 -200.52 
L 132.99 -195.55 
L 139.65 -149.59 
L 146.30 -140.49 
L 152.95 -149.07 
L 159.61 -157.60 
L 166.26 -149.56 
L 172.91 -149.56 
L 179.56 -169.04 
L 186.22 -151.63 
L 192.87 -161.79 
L 199.52 -160.33 
L 206.17 -161.04 
L 212.83 -161.16 
L 219.48 -173.18 
L 226.13 -144.34 
L 232.79 -145.30 
L 239.44 -142.93 
L 246.09 -147.62 
L 252.74 -159.09 
L 259.40 -179.39 
L 266.05 -205.49 
L 272.70 -171.52 
L 279.36 -273.02 
L 286.01 -208.81 
L 292.66 -198.86 
L 299.31 -153.71 
L 305.97 -167.38 
L 312.62 -152.05 
L 319.27 -169.86 
L 325.92 -211.71 
L 332.58 -141.69 
L 339.23 -136.72 
L 345.88 -142.11 
L 352.54 -142.52 
L 359.19 -135.89 
L 365.84 -147.08 
L 372.49 -166.47 
L 379.15 -147.08 
L 385.80 -136.43 
L 392.45 -140.61 
L 399.10 -138.29 
L 405.76 -171.11 
L 412.41 -141.48 
L 419.06 -153.50 
L 425.72 -164.89 
L 432.37 -148.73 
L 439.02 -150.60 
L 445.67 -190.16 
L 452.33 -136.31 
L 458.98 -134.61 
L 465.63 -135.48 
L 472.29 -163.65 
L 478.94 -188.92 
L 485.59 -155.36 
L 492.24 -239.47 
L 498.90 -236.15 
L 498.90 -241.54 
L 498.90 -241.54 
L 492.24 -241.64 
L 485.59 -157.12 
L 478.94 -189.44 
L 472.29 -163.86 
L 465.63 -136.10 
L 458.98 -135.24 
L 452.33 -137.03 
L 445.67 -190.97 
L 439.02 -151.04 
L 432.37 -149.19 
L 425.72 -165.65 
L 419.06 -153.86 
L 412.41 -141.68 
L 405.76 -171.91 
L 399.10 -138.94 
L 392.45 -141.32 
L 385.80 -137.01 
L 379.15 -147.46 
L 372.49 -167.56 
L 365.84 -147.49 
L 359.19 -136.41 
L 352.54 -143.14 
L 345.88 -142.93 
L 339.23 -137.55 
L 332.58 -142.52 
L 325.92 -212.43 
L 319.27 -170.49 
L 312.62 -152.57 
L 305.97 -168.10 
L 299.31 -154.22 
L 292.66 -199.28 
L 286.01 -209.22 
L 279.36 -273.96 
L 272.70 -172.45 
L 266.05 -206.43 
L 259.40 -180.22 
L 252.74 -159.69 
L 246.09 -148.20 
L 239.44 -143.63 
L 232.79 -145.88 
L 226.13 -144.81 
L 219.48 -174.10 
L 212.83 -161.86 
L 206.17 -161.76 
L 199.52 -161.06 
L 192.87 -162.57 
L 186.22 -152.26 
L 179.56 -169.80 
L 172.91 -149.98 
L 166.26 -150.12 
L 159.61 -158.37 
L 152.95 -149.60 
L 146.30 -140.79 
L 139.65 -150.14 
L 132.99 -195.94 
L 126.34 -201.56 
L 119.69 -212.02 
L 113.04 -206.12 
L 106.38 -174.01 
L 99.73 -178.62 
L 93.08 -198.64 
z
" transform="translate(0 306)" style="stroke: #439bb5; fill: #439bb5; stroke: #439bb5"/>
    </g>
   </g>
   <g id="FillBetweenPolyCollection_28">
    
    <g clip-path="url(#p6c97a003e6)">
     <path d="M 93.08 -199.24 
L 93.08 -198.64 
L 99.73 -178.62 
L 106.38 -174.01 
L 113.04 -206.12 
L 119.69 -212.02 
L 126.34 -201.56 
L 132.99 -195.94 
L 139.65 -150.14 
L 146.30 -140.79 
L 152.95 -149.60 
L 159.61 -158.37 
L 166.26 -150.12 
L 172.91 -149.98 
L 179.56 -169.80 
L 186.22 -152.26 
L 192.87 -162.57 
L 199.52 -161.06 
L 206.17 -161.76 
L 212.83 -161.86 
L 219.48 -174.10 
L 226.13 -144.81 
L 232.79 -145.88 
L 239.44 -143.63 
L 246.09 -148.20 
L 252.74 -159.69 
L 259.40 -180.22 
L 266.05 -206.43 
L 272.70 -172.45 
L 279.36 -273.96 
L 286.01 -209.22 
L 292.66 -199.28 
L 299.31 -154.22 
L 305.97 -168.10 
L 312.62 -152.57 
L 319.27 -170.49 
L 325.92 -212.43 
L 332.58 -142.52 
L 339.23 -137.55 
L 345.88 -142.93 
L 352.54 -143.14 
L 359.19 -136.41 
L 365.84 -147.49 
L 372.49 -167.56 
L 379.15 -147.46 
L 385.80 -137.01 
L 392.45 -141.32 
L 399.10 -138.94 
L 405.76 -171.91 
L 412.41 -141.68 
L 419.06 -153.86 
L 425.72 -165.65 
L 432.37 -149.19 
L 439.02 -151.04 
L 445.67 -190.97 
L 452.33 -137.03 
L 458.98 -135.24 
L 465.63 -136.10 
L 472.29 -163.86 
L 478.94 -189.44 
L 485.59 -157.12 
L 492.24 -241.64 
L 498.90 -241.54 
L 498.90 -249.82 
L 498.90 -249.82 
L 492.24 -243.82 
L 485.59 -158.88 
L 478.94 -189.96 
L 472.29 -164.06 
L 465.63 -136.72 
L 458.98 -135.87 
L 452.33 -137.76 
L 445.67 -191.78 
L 439.02 -151.49 
L 432.37 -149.65 
L 425.72 -166.40 
L 419.06 -154.22 
L 412.41 -141.88 
L 405.76 -172.72 
L 399.10 -139.58 
L 392.45 -142.02 
L 385.80 -137.59 
L 379.15 -147.84 
L 372.49 -168.66 
L 365.84 -148.73 
L 359.19 -136.93 
L 352.54 -145.21 
L 345.88 -149.40 
L 339.23 -148.57 
L 332.58 -154.53 
L 325.92 -213.16 
L 319.27 -171.11 
L 312.62 -153.08 
L 305.97 -168.83 
L 299.31 -154.74 
L 292.66 -199.69 
L 286.01 -209.64 
L 279.36 -274.89 
L 272.70 -173.39 
L 266.05 -207.36 
L 259.40 -181.05 
L 252.74 -160.29 
L 246.09 -148.78 
L 239.44 -144.32 
L 232.79 -146.46 
L 226.13 -145.28 
L 219.48 -175.02 
L 212.83 -162.55 
L 206.17 -162.49 
L 199.52 -161.79 
L 192.87 -163.36 
L 186.22 -152.88 
L 179.56 -170.57 
L 172.91 -150.39 
L 166.26 -150.68 
L 159.61 -159.13 
L 152.95 -150.14 
L 146.30 -141.09 
L 139.65 -150.69 
L 132.99 -196.34 
L 126.34 -202.59 
L 119.69 -213.37 
L 113.04 -207.98 
L 106.38 -174.42 
L 99.73 -179.08 
L 93.08 -199.24 
z
" transform="translate(0 306)" style="stroke: #3387bc; fill: #3387bc; stroke: #3387bc"/>
    </g>
   </g>
   <g id="FillBetweenPolyCollection_29">
    
    <g clip-path="url(#p6c97a003e6)">
     <path d="M 93.08 -199.84 
L 93.08 -199.24 
L 99.73 -179.08 
L 106.38 -174.42 
L 113.04 -207.98 
L 119.69 -213.37 
L 126.34 -202.59 
L 132.99 -196.34 
L 139.65 -150.69 
L 146.30 -141.09 
L 152.95 -150.14 
L 159.61 -159.13 
L 166.26 -150.68 
L 172.91 -150.39 
L 179.56 -170.57 
L 186.22 -152.88 
L 192.87 -163.36 
L 199.52 -161.79 
L 206.17 -162.49 
L 212.83 -162.55 
L 219.48 -175.02 
L 226.13 -145.28 
L 232.79 -146.46 
L 239.44 -144.32 
L 246.09 -148.78 
L 252.74 -160.29 
L 259.40 -181.05 
L 266.05 -207.36 
L 272.70 -173.39 
L 279.36 -274.89 
L 286.01 -209.64 
L 292.66 -199.69 
L 299.31 -154.74 
L 305.97 -168.83 
L 312.62 -153.08 
L 319.27 -171.11 
L 325.92 -213.16 
L 332.58 -154.53 
L 339.23 -148.57 
L 345.88 -149.40 
L 352.54 -145.21 
L 359.19 -136.93 
L 365.84 -148.73 
L 372.49 -168.66 
L 379.15 -147.84 
L 385.80 -137.59 
L 392.45 -142.02 
L 399.10 -139.58 
L 405.76 -172.72 
L 412.41 -141.88 
L 419.06 -154.22 
L 425.72 -166.40 
L 432.37 -149.65 
L 439.02 -151.49 
L 445.67 -191.78 
L 452.33 -137.76 
L 458.98 -135.87 
L 465.63 -136.72 
L 472.29 -164.06 
L 478.94 -189.96 
L 485.59 -158.88 
L 492.24 -243.82 
L 498.90 -249.82 
L 498.90 -258.11 
L 498.90 -258.11 
L 492.24 -245.99 
L 485.59 -160.65 
L 478.94 -190.48 
L 472.29 -164.27 
L 465.63 -137.34 
L 458.98 -136.50 
L 452.33 -138.48 
L 445.67 -192.59 
L 439.02 -151.94 
L 432.37 -150.10 
L 425.72 -167.16 
L 419.06 -154.59 
L 412.41 -142.07 
L 405.76 -173.53 
L 399.10 -140.22 
L 392.45 -142.73 
L 385.80 -138.17 
L 379.15 -148.23 
L 372.49 -169.76 
L 365.84 -151.22 
L 359.19 -137.55 
L 352.54 -146.25 
L 345.88 -150.39 
L 339.23 -149.56 
L 332.58 -156.07 
L 325.92 -213.88 
L 319.27 -171.73 
L 312.62 -153.60 
L 305.97 -169.55 
L 299.31 -155.26 
L 292.66 -200.11 
L 286.01 -210.05 
L 279.36 -275.82 
L 272.70 -174.32 
L 266.05 -208.29 
L 259.40 -181.88 
L 252.74 -160.89 
L 246.09 -149.36 
L 239.44 -145.02 
L 232.79 -147.04 
L 226.13 -145.74 
L 219.48 -175.94 
L 212.83 -163.25 
L 206.17 -163.21 
L 199.52 -162.51 
L 192.87 -164.15 
L 186.22 -153.50 
L 179.56 -171.33 
L 172.91 -150.81 
L 166.26 -151.24 
L 159.61 -159.90 
L 152.95 -150.68 
L 146.30 -141.39 
L 139.65 -151.25 
L 132.99 -196.73 
L 126.34 -203.63 
L 119.69 -215.23 
L 113.04 -209.55 
L 106.38 -174.84 
L 99.73 -179.55 
L 93.08 -199.84 
z
" transform="translate(0 306)" style="stroke: #4175b4; fill: #4175b4; stroke: #4175b4"/>
    </g>
   </g>
   <g id="FillBetweenPolyCollection_30">
    
    <g clip-path="url(#p6c97a003e6)">
     <path d="M 93.08 -200.44 
L 93.08 -199.84 
L 99.73 -179.55 
L 106.38 -174.84 
L 113.04 -209.55 
L 119.69 -215.23 
L 126.34 -203.63 
L 132.99 -196.73 
L 139.65 -151.25 
L 146.30 -141.39 
L 152.95 -150.68 
L 159.61 -159.90 
L 166.26 -151.24 
L 172.91 -150.81 
L 179.56 -171.33 
L 186.22 -153.50 
L 192.87 -164.15 
L 199.52 -162.51 
L 206.17 -163.21 
L 212.83 -163.25 
L 219.48 -175.94 
L 226.13 -145.74 
L 232.79 -147.04 
L 239.44 -145.02 
L 246.09 -149.36 
L 252.74 -160.89 
L 259.40 -181.88 
L 266.05 -208.29 
L 272.70 -174.32 
L 279.36 -275.82 
L 286.01 -210.05 
L 292.66 -200.11 
L 299.31 -155.26 
L 305.97 -169.55 
L 312.62 -153.60 
L 319.27 -171.73 
L 325.92 -213.88 
L 332.58 -156.07 
L 339.23 -149.56 
L 345.88 -150.39 
L 352.54 -146.25 
L 359.19 -137.55 
L 365.84 -151.22 
L 372.49 -169.76 
L 379.15 -148.23 
L 385.80 -138.17 
L 392.45 -142.73 
L 399.10 -140.22 
L 405.76 -173.53 
L 412.41 -142.07 
L 419.06 -154.59 
L 425.72 -167.16 
L 432.37 -150.10 
L 439.02 -151.94 
L 445.67 -192.59 
L 452.33 -138.48 
L 458.98 -136.50 
L 465.63 -137.34 
L 472.29 -164.27 
L 478.94 -190.48 
L 485.59 -160.65 
L 492.24 -245.99 
L 498.90 -258.11 
L 498.90 -265.98 
L 498.90 -265.98 
L 492.24 -248.17 
L 485.59 -162.41 
L 478.94 -190.99 
L 472.29 -164.48 
L 465.63 -137.96 
L 458.98 -137.13 
L 452.33 -139.21 
L 445.67 -193.40 
L 439.02 -152.38 
L 432.37 -150.56 
L 425.72 -167.92 
L 419.06 -154.95 
L 412.41 -142.27 
L 405.76 -174.34 
L 399.10 -140.86 
L 392.45 -143.43 
L 385.80 -138.75 
L 379.15 -148.61 
L 372.49 -170.86 
L 365.84 -155.69 
L 359.19 -150.31 
L 352.54 -155.11 
L 345.88 -154.53 
L 339.23 -158.68 
L 332.58 -159.22 
L 325.92 -214.61 
L 319.27 -172.35 
L 312.62 -154.12 
L 305.97 -170.28 
L 299.31 -155.78 
L 292.66 -200.52 
L 286.01 -210.47 
L 279.36 -276.75 
L 272.70 -175.25 
L 266.05 -209.22 
L 259.40 -182.71 
L 252.74 -161.50 
L 246.09 -149.94 
L 239.44 -145.71 
L 232.79 -147.62 
L 226.13 -146.21 
L 219.48 -176.87 
L 212.83 -163.94 
L 206.17 -163.94 
L 199.52 -163.24 
L 192.87 -164.93 
L 186.22 -154.12 
L 179.56 -172.10 
L 172.91 -151.22 
L 166.26 -151.80 
L 159.61 -160.67 
L 152.95 -151.22 
L 146.30 -141.69 
L 139.65 -151.80 
L 132.99 -197.12 
L 126.34 -204.67 
L 119.69 -217.09 
L 113.04 -211.13 
L 106.38 -175.25 
L 99.73 -180.01 
L 93.08 -200.44 
z
" transform="translate(0 306)" style="stroke: #5061aa; fill: #5061aa; stroke: #5061aa"/>
    </g>
   </g>
   <g id="matplotlib.axis_1">
    <g id="xtick_1">
     <g id="line2d_1">
      
      <g>
       <path d="M 0 0 
L 0 3.5 
" transform="translate(79.56 183.96)" style="stroke: #000000; stroke-width: 0.8; stroke: #000000; stroke-width: 0.8"/>
      </g>
     </g>
     <g id="text_1">
      <text style="font-size: 10px; font-family: 'DejaVu Sans', sans-serif" transform="translate(24.47 229.03) rotate(-30)">30-Apr-2019</text>
     </g>
    </g>
    <g id="xtick_2">
     <g id="line2d_2">
      <g>
       <path d="M 0 0 
L 0 3.5 
" transform="translate(119.88 183.96)" style="stroke: #000000; stroke-width: 0.8; stroke: #000000; stroke-width: 0.8"/>
      </g>
     </g>
     <g id="text_2">
      <text style="font-size: 10px; font-family: 'DejaVu Sans', sans-serif" transform="translate(60.87 231.06) rotate(-30)">03-May-2019</text>
     </g>
    </g>
    <g id="xtick_3">
     <g id="line2d_3">
      <g>
       <path d="M 0 0 
L 0 3.5 
" transform="translate(159.48 183.96)" style="stroke: #000000; stroke-width: 0.8; stroke: #000000; stroke-width: 0.8"/>
      </g>
     </g>
     <g id="text_3">
      <text style="font-size: 10px; font-family: 'DejaVu Sans', sans-serif" transform="translate(100.78 231.06) rotate(-30)">06-May-2019</text>
     </g>
    </g>
    <g id="xtick_4">
     <g id="line2d_4">
      <g>
       <path d="M 0 0 
L 0 3.5 
" transform="translate(199.80 183.96)" style="stroke: #000000; stroke-width: 0.8; stroke: #000000; stroke-width: 0.8"/>
      </g>
     </g>
     <g id="text_4">
      <text style="font-size: 10px; font-family: 'DejaVu Sans', sans-serif" transform="translate(140.70 231.06) rotate(-30)">09-May-2019</text>
     </g>
    </g>
    <g id="xtick_5">
     <g id="line2d_5">
      <g>
       <path d="M 0 0 
L 0 3.5 
" transform="translate(239.40 183.96)" style="stroke: #000000; stroke-width: 0.8; stroke: #000000; stroke-width: 0.8"/>
      </g>
     </g>
     <g id="text_5">
      <text style="font-size: 10px; font-family: 'DejaVu Sans', sans-serif" transform="translate(180.62 231.06) rotate(-30)">12-May-2019</text>
     </g>
    </g>
    <g id="xtick_6">
     <g id="line2d_6">
      <g>
       <path d="M 0 0 
L 0 3.5 
" transform="translate(279.72 183.96)" style="stroke: #000000; stroke-width: 0.8; stroke: #000000; stroke-width: 0.8"/>
      </g>
     </g>
     <g id="text_6">
      <text style="font-size: 10px; font-family: 'DejaVu Sans', sans-serif" transform="translate(220.53 231.06) rotate(-30)">15-May-2019</text>
     </g>
    </g>
    <g id="xtick_7">
     <g id="line2d_7">
      <g>
       <path d="M 0 0 
L 0 3.5 
" transform="translate(319.32 183.96)" style="stroke: #000000; stroke-width: 0.8; stroke: #000000; stroke-width: 0.8"/>
      </g>
     </g>
     <g id="text_7">
      <text style="font-size: 10px; font-family: 'DejaVu Sans', sans-serif" transform="translate(260.45 231.06) rotate(-30)">18-May-2019</text>
     </g>
    </g>
    <g id="xtick_8">
     <g id="line2d_8">
      <g>
       <path d="M 0 0 
L 0 3.5 
" transform="translate(358.92 183.96)" style="stroke: #000000; stroke-width: 0.8; stroke: #000000; stroke-width: 0.8"/>
      </g>
     </g>
     <g id="text_8">
      <text style="font-size: 10px; font-family: 'DejaVu Sans', sans-serif" transform="translate(300.37 231.06) rotate(-30)">21-May-2019</text>
     </g>
    </g>
    <g id="xtick_9">
     <g id="line2d_9">
      <g>
       <path d="M 0 0 
L 0 3.5 
" transform="translate(399.24 183.96)" style="stroke: #000000; stroke-width: 0.8; stroke: #000000; stroke-width: 0.8"/>
      </g>
     </g>
     <g id="text_9">
      <text style="font-size: 10px; font-family: 'DejaVu Sans', sans-serif" transform="translate(340.28 231.06) rotate(-30)">24-May-2019</text>
     </g>
    </g>
    <g id="xtick_10">
     <g id="line2d_10">
      <g>
       <path d="M 0 0 
L 0 3.5 
" transform="translate(438.84 183.96)" style="stroke: #000000; stroke-width: 0.8; stroke: #000000; stroke-width: 0.8"/>
      </g>
     </g>
     <g id="text_10">
      <text style="font-size: 10px; font-family: 'DejaVu Sans', sans-serif" transform="translate(380.20 231.06) rotate(-30)">27-May-2019</text>
     </g>
    </g>
    <g id="xtick_11">
     <g id="line2d_11">
      <g>
       <path d="M 0 0 
L 0 3.5 
" transform="translate(479.16 183.96)" style="stroke: #000000; stroke-width: 0.8; stroke: #000000; stroke-width: 0.8"/>
      </g>
     </g>
     <g id="text_11">
      <text style="font-size: 10px; font-family: 'DejaVu Sans', sans-serif" transform="translate(420.12 231.06) rotate(-30)">30-May-2019</text>
     </g>
    </g>
    <g id="xtick_12">
     <g id="line2d_12">
      <g>
       <path d="M 0 0 
L 0 3.5 
" transform="translate(518.76 183.96)" style="stroke: #000000; stroke-width: 0.8; stroke: #000000; stroke-width: 0.8"/>
      </g>
     </g>
     <g id="text_12">
      <text style="font-size: 10px; font-family: 'DejaVu Sans', sans-serif" transform="translate(463.77 228.90) rotate(-30)">02-Jun-2019</text>
     </g>
    </g>
   </g>
   <g id="matplotlib.axis_2">
    <g id="ytick_1">
     <g id="line2d_13">
      
      <g>
       <path d="M 0 0 
L -3.5 0 
" transform="translate(73.08 176.04)" style="stroke: #000000; stroke-width: 0.8; stroke: #000000; stroke-width: 0.8"/>
      </g>
     </g>
     <g id="text_13">
      <text style="font-size: 10px; font-family: 'DejaVu Sans', sans-serif; text-anchor: end" x="65.07" y="180.11" transform="rotate(-0 65.07 180.11)">0</text>
     </g>
    </g>
    <g id="ytick_2">
     <g id="line2d_14">
      <g>
       <path d="M 0 0 
L -3.5 0 
" transform="translate(73.08 155.88)" style="stroke: #000000; stroke-width: 0.8; stroke: #000000; stroke-width: 0.8"/>
      </g>
     </g>
     <g id="text_14">
      <text style="font-size: 10px; font-family: 'DejaVu Sans', sans-serif; text-anchor: end" x="65.07" y="159.40" transform="rotate(-0 65.07 159.40)">50</text>
     </g>
    </g>
    <g id="ytick_3">
     <g id="line2d_15">
      <g>
       <path d="M 0 0 
L -3.5 0 
" transform="translate(73.08 135.00)" style="stroke: #000000; stroke-width: 0.8; stroke: #000000; stroke-width: 0.8"/>
      </g>
     </g>
     <g id="text_15">
      <text style="font-size: 10px; font-family: 'DejaVu Sans', sans-serif; text-anchor: end" x="65.07" y="138.68" transform="rotate(-0 65.07 138.68)">100</text>
     </g>
    </g>
    <g id="ytick_4">
     <g id="line2d_16">
      <g>
       <path d="M 0 0 
L -3.5 0 
" transform="translate(73.08 114.12)" style="stroke: #000000; stroke-width: 0.8; stroke: #000000; stroke-width: 0.8"/>
      </g>
     </g>
     <g id="text_16">
      <text style="font-size: 10px; font-family: 'DejaVu Sans', sans-serif; text-anchor: end" x="65.07" y="117.97" transform="rotate(-0 65.07 117.97)">150</text>
     </g>
    </g>
    <g id="ytick_5">
     <g id="line2d_17">
      <g>
       <path d="M 0 0 
L -3.5 0 
" transform="translate(73.08 93.24)" style="stroke: #000000; stroke-width: 0.8; stroke: #000000; stroke-width: 0.8"/>
      </g>
     </g>
     <g id="text_17">
      <text style="font-size: 10px; font-family: 'DejaVu Sans', sans-serif; text-anchor: end" x="65.07" y="97.25" transform="rotate(-0 65.07 97.25)">200</text>
     </g>
    </g>
    <g id="ytick_6">
     <g id="line2d_18">
      <g>
       <path d="M 0 0 
L -3.5 0 
" transform="translate(73.08 73.08)" style="stroke: #000000; stroke-width: 0.8; stroke: #000000; stroke-width: 0.8"/>
      </g>
     </g>
     <g id="text_18">
      <text style="font-size: 10px; font-family: 'DejaVu Sans', sans-serif; text-anchor: end" x="65.07" y="76.54" transform="rotate(-0 65.07 76.54)">250</text>
     </g>
    </g>
    <g id="ytick_7">
     <g id="line2d_19">
      <g>
       <path d="M 0 0 
L -3.5 0 
" transform="translate(73.08 52.20)" style="stroke: #000000; stroke-width: 0.8; stroke: #000000; stroke-width: 0.8"/>
      </g>
     </g>
     <g id="text_19">
      <text style="font-size: 10px; font-family: 'DejaVu Sans', sans-serif; text-anchor: end" x="65.07" y="55.82" transform="rotate(-0 65.07 55.82)">300</text>
     </g>
    </g>
    <g id="ytick_8">
     <g id="line2d_20">
      <g>
       <path d="M 0 0 
L -3.5 0 
" transform="translate(73.08 31.32)" style="stroke: #000000; stroke-width: 0.8; stroke: #000000; stroke-width: 0.8"/>
      </g>
     </g>
     <g id="text_20">
      <text style="font-size: 10px; font-family: 'DejaVu Sans', sans-serif; text-anchor: end" x="65.07" y="35.11" transform="rotate(-0 65.07 35.11)">350</text>
     </g>
    </g>
    <g id="text_21">
     <text style="font-size: 14px; font-family: 'DejaVu Sans', sans-serif" transform="translate(17.31 188.39) rotate(-90)">DUST-404 concentration</text>
     
     <g transform="translate(36.66 133.65) rotate(-90)">
      <text>
       <tspan x="0.00" y="-0.36" style="font-size: 14px; font-family: 'DejaVu Sans', sans-serif">(</tspan>
       <tspan x="5.46" y="-0.36" style="font-size: 14px; font-family: 'DejaVu Sans', sans-serif">n</tspan>
       <tspan x="14.33" y="-0.36" style="font-size: 14px; font-family: 'DejaVu Sans', sans-serif">g</tspan>
       <tspan x="23.22" y="-0.36" style="font-size: 14px; font-family: 'DejaVu Sans', sans-serif"> </tspan>
       <tspan x="27.67" y="-0.36" style="font-size: 14px; font-family: 'DejaVu Sans', sans-serif">m</tspan>
       <tspan x="55.97" y="-0.36" style="font-size: 14px; font-family: 'DejaVu Sans', sans-serif">)</tspan>
       <tspan x="40.64" y="-5.22" style="font-size: 9.8px; font-family: 'DejaVu Sans', sans-serif">−</tspan>
       <tspan x="48.85" y="-5.22" style="font-size: 9.8px; font-family: 'DejaVu Sans', sans-serif">3</tspan>
      </text>
     </g>
    </g>
   </g>
   <g id="patch_3">
    <path d="M 73.08 183.96 
L 73.08 21.96 
" style="fill: none; stroke: #000000; stroke-width: 0.8; stroke-linejoin: miter; stroke-linecap: square"/>
   </g>
   <g id="patch_4">
    <path d="M 519.48 183.96 
L 519.48 21.96 
" style="fill: none; stroke: #000000; stroke-width: 0.8; stroke-linejoin: miter; stroke-linecap: square"/>
   </g>
   <g id="patch_5">
    <path d="M 73.08 183.96 
L 519.48 183.96 
" style="fill: none; stroke: #000000; stroke-width: 0.8; stroke-linejoin: miter; stroke-linecap: square"/>
   </g>
   <g id="patch_6">
    <path d="M 73.08 21.96 
L 519.48 21.96 
" style="fill: none; stroke: #000000; stroke-width: 0.8; stroke-linejoin: miter; stroke-linecap: square"/>
   </g>
   <g id="text_22">
    <text style="font-size: 12px; font-family: 'DejaVu Sans', sans-serif; text-anchor: middle" x="295.99" y="15.88" transform="rotate(-0 295.99 15.88)">Age contribution to DUST-404 concentrations</text>
   </g>
  </g>
  <g id="axes_2">
   <g id="patch_7">
    <path d="M 73.00 281.88 
L 519.40 281.88 
L 519.40 247.96 
L 73.00 247.96 
z
" style="fill: #ffffff"/>
   </g>
   <g id="QuadMesh_1">
    <path d="M 73.00 281.88 
L 73.00 247.96 
L 87.88 247.96 
L 87.88 281.88 
L 73.00 281.88 
" clip-path="url(#p4804e77447)" style="fill: #a70b44; stroke: #a70b44; stroke-width: 0.5"/>
    <path d="M 87.88 281.88 
L 87.88 247.96 
L 102.76 247.96 
L 102.76 281.88 
L 87.88 281.88 
" clip-path="url(#p4804e77447)" style="fill: #b81e48; stroke: #b81e48; stroke-width: 0.5"/>
    <path d="M 102.76 281.88 
L 102.76 247.96 
L 117.64 247.96 
L 117.64 281.88 
L 102.76 281.88 
" clip-path="url(#p4804e77447)" style="fill: #cb334d; stroke: #cb334d; stroke-width: 0.5"/>
    <path d="M 117.64 281.88 
L 117.64 247.96 
L 132.52 247.96 
L 132.52 281.88 
L 117.64 281.88 
" clip-path="url(#p4804e77447)" style="fill: #d9444d; stroke: #d9444d; stroke-width: 0.5"/>
    <path d="M 132.52 281.88 
L 132.52 247.96 
L 147.40 247.96 
L 147.40 281.88 
L 132.52 281.88 
" clip-path="url(#p4804e77447)" style="fill: #e45549; stroke: #e45549; stroke-width: 0.5"/>
    <path d="M 147.40 281.88 
L 147.40 247.96 
L 162.28 247.96 
L 162.28 281.88 
L 147.40 281.88 
" clip-path="url(#p4804e77447)" style="fill: #ee6445; stroke: #ee6445; stroke-width: 0.5"/>
    <path d="M 162.28 281.88 
L 162.28 247.96 
L 177.16 247.96 
L 177.16 281.88 
L 162.28 281.88 
" clip-path="url(#p4804e77447)" style="fill: #f57748; stroke: #f57748; stroke-width: 0.5"/>
    <path d="M 177.16 281.88 
L 177.16 247.96 
L 192.04 247.96 
L 192.04 281.88 
L 177.16 281.88 
" clip-path="url(#p4804e77447)" style="fill: #f98e52; stroke: #f98e52; stroke-width: 0.5"/>
    <path d="M 192.04 281.88 
L 192.04 247.96 
L 206.92 247.96 
L 206.92 281.88 
L 192.04 281.88 
" clip-path="url(#p4804e77447)" style="fill: #fba35c; stroke: #fba35c; stroke-width: 0.5"/>
    <path d="M 206.92 281.88 
L 206.92 247.96 
L 221.80 247.96 
L 221.80 281.88 
L 206.92 281.88 
" clip-path="url(#p4804e77447)" style="fill: #fdb768; stroke: #fdb768; stroke-width: 0.5"/>
    <path d="M 221.80 281.88 
L 221.80 247.96 
L 236.68 247.96 
L 236.68 281.88 
L 221.80 281.88 
" clip-path="url(#p4804e77447)" style="fill: #fdc776; stroke: #fdc776; stroke-width: 0.5"/>
    <path d="M 236.68 281.88 
L 236.68 247.96 
L 251.56 247.96 
L 251.56 281.88 
L 236.68 281.88 
" clip-path="url(#p4804e77447)" style="fill: #fed884; stroke: #fed884; stroke-width: 0.5"/>
    <path d="M 251.56 281.88 
L 251.56 247.96 
L 266.44 247.96 
L 266.44 281.88 
L 251.56 281.88 
" clip-path="url(#p4804e77447)" style="fill: #fee593; stroke: #fee593; stroke-width: 0.5"/>
    <path d="M 266.44 281.88 
L 266.44 247.96 
L 281.32 247.96 
L 281.32 281.88 
L 266.44 281.88 
" clip-path="url(#p4804e77447)" style="fill: #fff0a6; stroke: #fff0a6; stroke-width: 0.5"/>
    <path d="M 281.32 281.88 
L 281.32 247.96 
L 296.20 247.96 
L 296.20 281.88 
L 281.32 281.88 
" clip-path="url(#p4804e77447)" style="fill: #fffab6; stroke: #fffab6; stroke-width: 0.5"/>
    <path d="M 296.20 281.88 
L 296.20 247.96 
L 311.08 247.96 
L 311.08 281.88 
L 296.20 281.88 
" clip-path="url(#p4804e77447)" style="fill: #fbfdb8; stroke: #fbfdb8; stroke-width: 0.5"/>
    <path d="M 311.08 281.88 
L 311.08 247.96 
L 325.96 247.96 
L 325.96 281.88 
L 311.08 281.88 
" clip-path="url(#p4804e77447)" style="fill: #f3faac; stroke: #f3faac; stroke-width: 0.5"/>
    <path d="M 325.96 281.88 
L 325.96 247.96 
L 340.84 247.96 
L 340.84 281.88 
L 325.96 281.88 
" clip-path="url(#p4804e77447)" style="fill: #eaf79e; stroke: #eaf79e; stroke-width: 0.5"/>
    <path d="M 340.84 281.88 
L 340.84 247.96 
L 355.72 247.96 
L 355.72 281.88 
L 340.84 281.88 
" clip-path="url(#p4804e77447)" style="fill: #ddf19a; stroke: #ddf19a; stroke-width: 0.5"/>
    <path d="M 355.72 281.88 
L 355.72 247.96 
L 370.60 247.96 
L 370.60 281.88 
L 355.72 281.88 
" clip-path="url(#p4804e77447)" style="fill: #c8e99e; stroke: #c8e99e; stroke-width: 0.5"/>
    <path d="M 370.60 281.88 
L 370.60 247.96 
L 385.48 247.96 
L 385.48 281.88 
L 370.60 281.88 
" clip-path="url(#p4804e77447)" style="fill: #b5e1a2; stroke: #b5e1a2; stroke-width: 0.5"/>
    <path d="M 385.48 281.88 
L 385.48 247.96 
L 400.36 247.96 
L 400.36 281.88 
L 385.48 281.88 
" clip-path="url(#p4804e77447)" style="fill: #9fd8a4; stroke: #9fd8a4; stroke-width: 0.5"/>
    <path d="M 400.36 281.88 
L 400.36 247.96 
L 415.24 247.96 
L 415.24 281.88 
L 400.36 281.88 
" clip-path="url(#p4804e77447)" style="fill: #86cfa5; stroke: #86cfa5; stroke-width: 0.5"/>
    <path d="M 415.24 281.88 
L 415.24 247.96 
L 430.12 247.96 
L 430.12 281.88 
L 415.24 281.88 
" clip-path="url(#p4804e77447)" style="fill: #71c6a5; stroke: #71c6a5; stroke-width: 0.5"/>
    <path d="M 430.12 281.88 
L 430.12 247.96 
L 445.00 247.96 
L 445.00 281.88 
L 430.12 281.88 
" clip-path="url(#p4804e77447)" style="fill: #5cb7aa; stroke: #5cb7aa; stroke-width: 0.5"/>
    <path d="M 445.00 281.88 
L 445.00 247.96 
L 459.88 247.96 
L 459.88 281.88 
L 445.00 281.88 
" clip-path="url(#p4804e77447)" style="fill: #4ba4b1; stroke: #4ba4b1; stroke-width: 0.5"/>
    <path d="M 459.88 281.88 
L 459.88 247.96 
L 474.76 247.96 
L 474.76 281.88 
L 459.88 281.88 
" clip-path="url(#p4804e77447)" style="fill: #3990ba; stroke: #3990ba; stroke-width: 0.5"/>
    <path d="M 474.76 281.88 
L 474.76 247.96 
L 489.64 247.96 
L 489.64 281.88 
L 474.76 281.88 
" clip-path="url(#p4804e77447)" style="fill: #3a7eb8; stroke: #3a7eb8; stroke-width: 0.5"/>
    <path d="M 489.64 281.88 
L 489.64 247.96 
L 504.52 247.96 
L 504.52 281.88 
L 489.64 281.88 
" clip-path="url(#p4804e77447)" style="fill: #496aaf; stroke: #496aaf; stroke-width: 0.5"/>
    <path d="M 504.52 281.88 
L 504.52 247.96 
L 519.40 247.96 
L 519.40 281.88 
L 504.52 281.88 
" clip-path="url(#p4804e77447)" style="fill: #5758a6; stroke: #5758a6; stroke-width: 0.5"/>
   </g>
   <g id="matplotlib.axis_3">
    <g id="xtick_13">
     <g id="line2d_21">
      <g>
       <path d="M 0 0 
L 0 3.5 
" transform="translate(73.08 281.88)" style="stroke: #000000; stroke-width: 0.8; stroke: #000000; stroke-width: 0.8"/>
      </g>
     </g>
     <g id="text_23">
      <text style="font-size: 10px; font-family: 'DejaVu Sans', sans-serif; text-anchor: middle" x="73.00" y="297.63" transform="rotate(-0 73.00 297.63)">0</text>
     </g>
    </g>
    <g id="xtick_14">
     <g id="line2d_22">
      <g>
       <path d="M 0 0 
L 0 3.5 
" transform="translate(132.84 281.88)" style="stroke: #000000; stroke-width: 0.8; stroke: #000000; stroke-width: 0.8"/>
      </g>
     </g>
     <g id="text_24">
      <text style="font-size: 10px; font-family: 'DejaVu Sans', sans-serif; text-anchor: middle" x="132.52" y="297.63" transform="rotate(-0 132.52 297.63)">4</text>
     </g>
    </g>
    <g id="xtick_15">
     <g id="line2d_23">
      <g>
       <path d="M 0 0 
L 0 3.5 
" transform="translate(191.88 281.88)" style="stroke: #000000; stroke-width: 0.8; stroke: #000000; stroke-width: 0.8"/>
      </g>
     </g>
     <g id="text_25">
      <text style="font-size: 10px; font-family: 'DejaVu Sans', sans-serif; text-anchor: middle" x="192.04" y="297.63" transform="rotate(-0 192.04 297.63)">8</text>
     </g>
    </g>
    <g id="xtick_16">
     <g id="line2d_24">
      <g>
       <path d="M 0 0 
L 0 3.5 
" transform="translate(251.64 281.88)" style="stroke: #000000; stroke-width: 0.8; stroke: #000000; stroke-width: 0.8"/>
      </g>
     </g>
     <g id="text_26">
      <text style="font-size: 10px; font-family: 'DejaVu Sans', sans-serif; text-anchor: middle" x="251.56" y="297.63" transform="rotate(-0 251.56 297.63)">12</text>
     </g>
    </g>
    <g id="xtick_17">
     <g id="line2d_25">
      <g>
       <path d="M 0 0 
L 0 3.5 
" transform="translate(311.40 281.88)" style="stroke: #000000; stroke-width: 0.8; stroke: #000000; stroke-width: 0.8"/>
      </g>
     </g>
     <g id="text_27">
      <text style="font-size: 10px; font-family: 'DejaVu Sans', sans-serif; text-anchor: middle" x="311.08" y="297.63" transform="rotate(-0 311.08 297.63)">16</text>
     </g>
    </g>
    <g id="xtick_18">
     <g id="line2d_26">
      <g>
       <path d="M 0 0 
L 0 3.5 
" transform="translate(370.44 281.88)" style="stroke: #000000; stroke-width: 0.8; stroke: #000000; stroke-width: 0.8"/>
      </g>
     </g>
     <g id="text_28">
      <text style="font-size: 10px; font-family: 'DejaVu Sans', sans-serif; text-anchor: middle" x="370.60" y="297.63" transform="rotate(-0 370.60 297.63)">20</text>
     </g>
    </g>
    <g id="xtick_19">
     <g id="line2d_27">
      <g>
       <path d="M 0 0 
L 0 3.5 
" transform="translate(430.20 281.88)" style="stroke: #000000; stroke-width: 0.8; stroke: #000000; stroke-width: 0.8"/>
      </g>
     </g>
     <g id="text_29">
      <text style="font-size: 10px; font-family: 'DejaVu Sans', sans-serif; text-anchor: middle" x="430.12" y="297.63" transform="rotate(-0 430.12 297.63)">24</text>
     </g>
    </g>
    <g id="xtick_20">
     <g id="line2d_28">
      <g>
       <path d="M 0 0 
L 0 3.5 
" transform="translate(489.96 281.88)" style="stroke: #000000; stroke-width: 0.8; stroke: #000000; stroke-width: 0.8"/>
      </g>
     </g>
     <g id="text_30">
      <text style="font-size: 10px; font-family: 'DejaVu Sans', sans-serif; text-anchor: middle" x="489.64" y="297.63" transform="rotate(-0 489.64 297.63)">28</text>
     </g>
    </g>
   </g>
   <g id="matplotlib.axis_4"/>
   <g id="LineCollection_1"/>
   <g id="patch_8">
    <path d="M 73.08 281.88 
L 73.08 264.60 
L 73.08 248.04 
L 519.48 248.04 
L 519.48 264.60 
L 519.48 281.88 
L 73.08 281.88 
z
" style="fill: none; stroke: #000000; stroke-width: 0.8; stroke-linejoin: miter; stroke-linecap: square"/>
   </g>
   <g id="text_31">
    <text style="font-size: 10px; font-family: 'DejaVu Sans', sans-serif; text-anchor: middle" x="296.20" y="267.68" transform="rotate(-0 296.20 267.68)">Days</text>
   </g>
  </g>
 </g>
 <defs>
  <clipPath id="p6c97a003e6">
   <rect x="72.79" y="21.88" width="446.4" height="161.78"/>
  </clipPath>
  <clipPath id="p4804e77447">
   <rect x="73.00" y="247.96" width="446.4" height="33.91"/>
  </clipPath>
 </defs>
</svg>

</body></html>
